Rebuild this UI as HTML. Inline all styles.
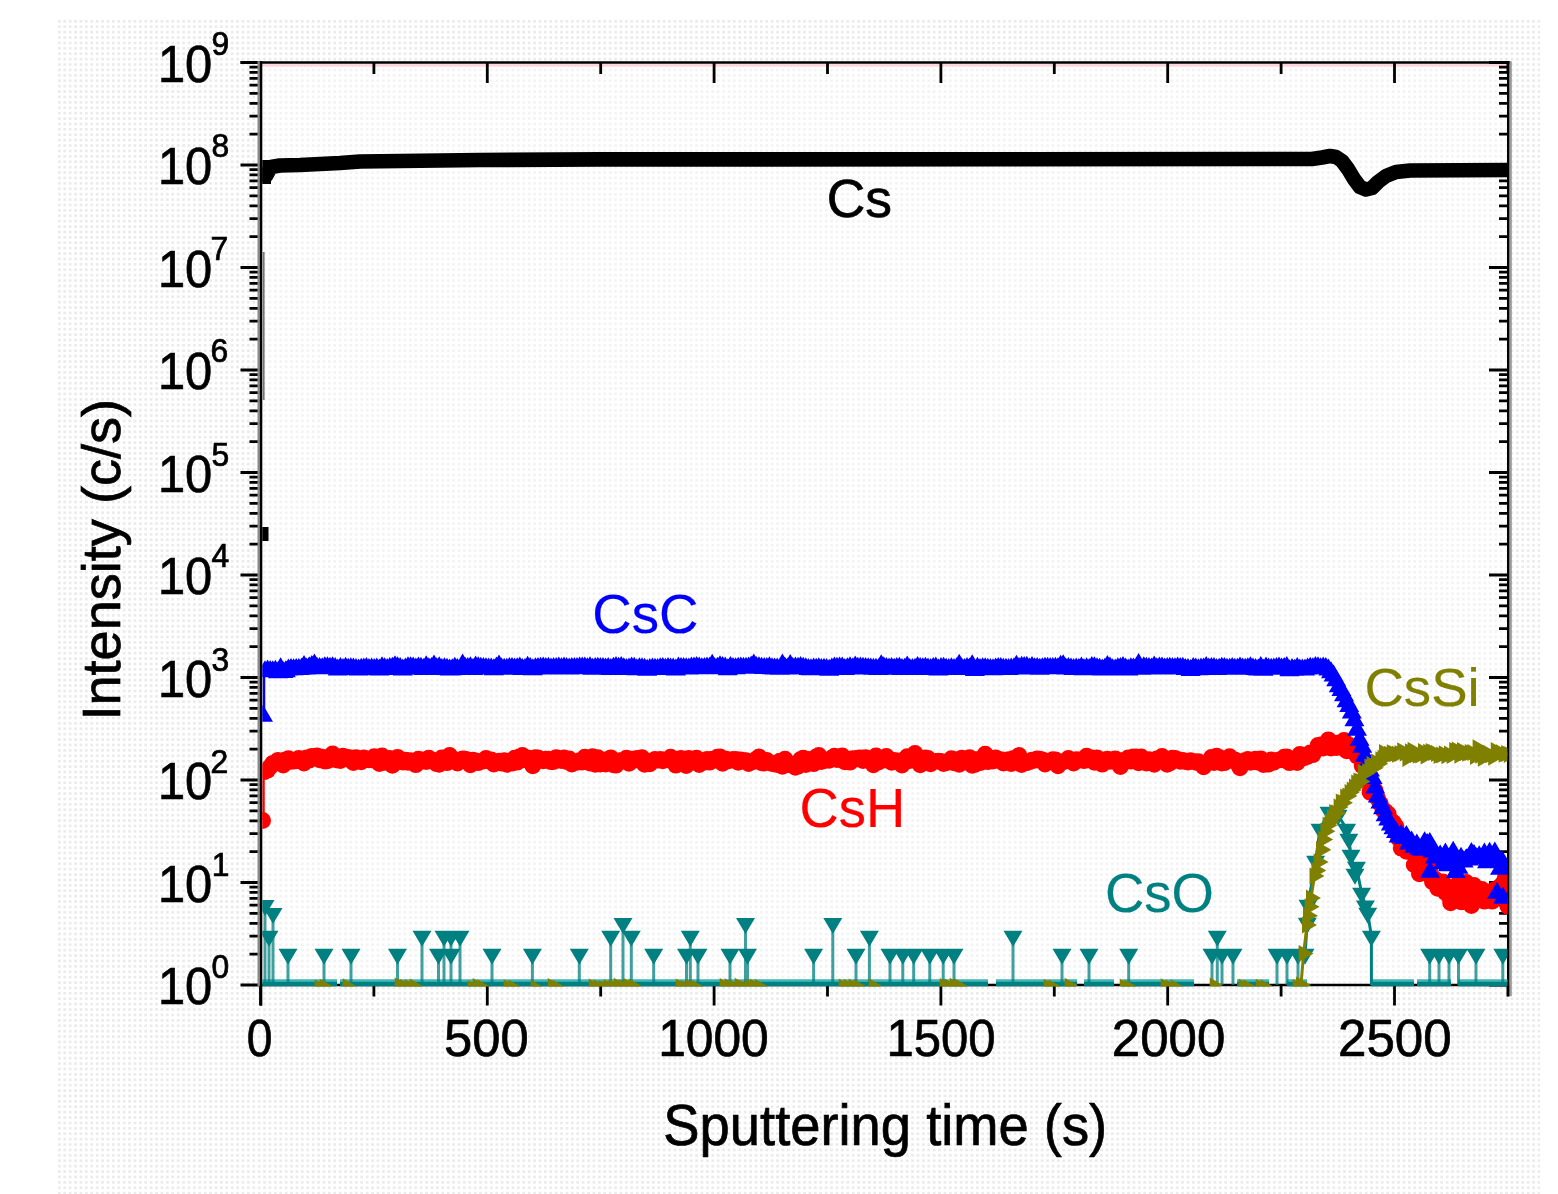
<!DOCTYPE html><html><head><meta charset="utf-8"><title>SIMS depth profile</title><style>html,body{margin:0;padding:0;background:#fff;}svg{display:block}</style></head><body>
<svg width="1558" height="1194" viewBox="0 0 1558 1194">
<defs><pattern id="dots" x="58" y="20" width="5.4" height="5.4" patternUnits="userSpaceOnUse"><path d="M0,0h2.7v2.7h-2.7z" fill="#ebebeb"/></pattern></defs>
<rect x="0" y="0" width="1558" height="1194" fill="#fff"/>
<rect x="58" y="20" width="1482" height="1174" fill="url(#dots)"/>
<rect x="260.5" y="62.5" width="1248.5" height="922.5" fill="#fff"/>
<rect x="260.5" y="62.5" width="1248.5" height="922.5" fill="url(#dots)" opacity="0.6"/>
<rect x="260.5" y="63.8" width="1248.5" height="3" fill="#ffd6de"/>
<path d="M240.5,985.0H260.5M1509.0,985.0H1489.0M249.5,954.1H260.5M1509.0,954.1H1499.0M249.5,936.1H260.5M1509.0,936.1H1499.0M249.5,923.3H260.5M1509.0,923.3H1499.0M249.5,913.4H260.5M1509.0,913.4H1499.0M249.5,905.2H260.5M1509.0,905.2H1499.0M249.5,898.4H260.5M1509.0,898.4H1499.0M249.5,892.4H260.5M1509.0,892.4H1499.0M249.5,887.2H260.5M1509.0,887.2H1499.0M240.5,882.5H260.5M1509.0,882.5H1489.0M249.5,851.6H260.5M1509.0,851.6H1499.0M249.5,833.6H260.5M1509.0,833.6H1499.0M249.5,820.8H260.5M1509.0,820.8H1499.0M249.5,810.9H260.5M1509.0,810.9H1499.0M249.5,802.7H260.5M1509.0,802.7H1499.0M249.5,795.9H260.5M1509.0,795.9H1499.0M249.5,789.9H260.5M1509.0,789.9H1499.0M249.5,784.7H260.5M1509.0,784.7H1499.0M240.5,780.0H260.5M1509.0,780.0H1489.0M249.5,749.1H260.5M1509.0,749.1H1499.0M249.5,731.1H260.5M1509.0,731.1H1499.0M249.5,718.3H260.5M1509.0,718.3H1499.0M249.5,708.4H260.5M1509.0,708.4H1499.0M249.5,700.2H260.5M1509.0,700.2H1499.0M249.5,693.4H260.5M1509.0,693.4H1499.0M249.5,687.4H260.5M1509.0,687.4H1499.0M249.5,682.2H260.5M1509.0,682.2H1499.0M240.5,677.5H260.5M1509.0,677.5H1489.0M249.5,646.6H260.5M1509.0,646.6H1499.0M249.5,628.6H260.5M1509.0,628.6H1499.0M249.5,615.8H260.5M1509.0,615.8H1499.0M249.5,605.9H260.5M1509.0,605.9H1499.0M249.5,597.7H260.5M1509.0,597.7H1499.0M249.5,590.9H260.5M1509.0,590.9H1499.0M249.5,584.9H260.5M1509.0,584.9H1499.0M249.5,579.7H260.5M1509.0,579.7H1499.0M240.5,575.0H260.5M1509.0,575.0H1489.0M249.5,544.1H260.5M1509.0,544.1H1499.0M249.5,526.1H260.5M1509.0,526.1H1499.0M249.5,513.3H260.5M1509.0,513.3H1499.0M249.5,503.4H260.5M1509.0,503.4H1499.0M249.5,495.2H260.5M1509.0,495.2H1499.0M249.5,488.4H260.5M1509.0,488.4H1499.0M249.5,482.4H260.5M1509.0,482.4H1499.0M249.5,477.2H260.5M1509.0,477.2H1499.0M240.5,472.5H260.5M1509.0,472.5H1489.0M249.5,441.6H260.5M1509.0,441.6H1499.0M249.5,423.6H260.5M1509.0,423.6H1499.0M249.5,410.8H260.5M1509.0,410.8H1499.0M249.5,400.9H260.5M1509.0,400.9H1499.0M249.5,392.7H260.5M1509.0,392.7H1499.0M249.5,385.9H260.5M1509.0,385.9H1499.0M249.5,379.9H260.5M1509.0,379.9H1499.0M249.5,374.7H260.5M1509.0,374.7H1499.0M240.5,370.0H260.5M1509.0,370.0H1489.0M249.5,339.1H260.5M1509.0,339.1H1499.0M249.5,321.1H260.5M1509.0,321.1H1499.0M249.5,308.3H260.5M1509.0,308.3H1499.0M249.5,298.4H260.5M1509.0,298.4H1499.0M249.5,290.2H260.5M1509.0,290.2H1499.0M249.5,283.4H260.5M1509.0,283.4H1499.0M249.5,277.4H260.5M1509.0,277.4H1499.0M249.5,272.2H260.5M1509.0,272.2H1499.0M240.5,267.5H260.5M1509.0,267.5H1489.0M249.5,236.6H260.5M1509.0,236.6H1499.0M249.5,218.6H260.5M1509.0,218.6H1499.0M249.5,205.8H260.5M1509.0,205.8H1499.0M249.5,195.9H260.5M1509.0,195.9H1499.0M249.5,187.7H260.5M1509.0,187.7H1499.0M249.5,180.9H260.5M1509.0,180.9H1499.0M249.5,174.9H260.5M1509.0,174.9H1499.0M249.5,169.7H260.5M1509.0,169.7H1499.0M240.5,165.0H260.5M1509.0,165.0H1489.0M249.5,134.1H260.5M1509.0,134.1H1499.0M249.5,116.1H260.5M1509.0,116.1H1499.0M249.5,103.3H260.5M1509.0,103.3H1499.0M249.5,93.4H260.5M1509.0,93.4H1499.0M249.5,85.2H260.5M1509.0,85.2H1499.0M249.5,78.4H260.5M1509.0,78.4H1499.0M249.5,72.4H260.5M1509.0,72.4H1499.0M249.5,67.2H260.5M1509.0,67.2H1499.0M240.5,62.5H260.5M1509.0,62.5H1489.0M260.5,985.0V1005.5M260.5,62.5V83.0M373.9,985.0V996.5M373.9,62.5V74.0M487.3,985.0V1005.5M487.3,62.5V83.0M600.7,985.0V996.5M600.7,62.5V74.0M714.1,985.0V1005.5M714.1,62.5V83.0M827.5,985.0V996.5M827.5,62.5V74.0M940.9,985.0V1005.5M940.9,62.5V83.0M1054.3,985.0V996.5M1054.3,62.5V74.0M1167.7,985.0V1005.5M1167.7,62.5V83.0M1281.1,985.0V996.5M1281.1,62.5V74.0M1394.5,985.0V1005.5M1394.5,62.5V83.0M1507.9,985.0V996.5M1507.9,62.5V74.0" stroke="#000" stroke-width="2.8" fill="none"/>
<path d="M240.5,62.5H1510.0M260.5,985.0H1509.0" stroke="#000" stroke-width="2.7" fill="none"/>
<rect x="257.5" y="61.2" width="2.4" height="925.1" fill="#8a8a8a"/>
<rect x="259.9" y="61.2" width="2.4" height="944.5" fill="#000"/>
<rect x="1507" y="61.2" width="2.6" height="935.0" fill="#000"/>
<rect x="1509.6" y="61.2" width="2.2" height="935.0" fill="#9a9a9a"/>
<clipPath id="dc"><rect x="262.3" y="63.8" width="1245.1000000000001" height="922.8000000000001"/></clipPath>
<g clip-path="url(#dc)">
<path d="M263.6,252V400" stroke="#777" stroke-width="2" fill="none"/>
<rect x="262" y="527" width="6.5" height="14" fill="#000"/>
<rect x="261" y="160" width="10" height="24" fill="#000"/>
<path d="M266.0,176.0L271.0,167.0L280.0,165.5L300.0,165.0L340.0,163.0L360.0,161.5L480.0,160.0L600.0,159.4L1000.0,159.3L1312.0,159.0L1322.0,157.5L1330.0,156.0L1336.0,157.0L1342.0,161.0L1348.0,169.0L1354.0,179.0L1360.0,187.0L1366.0,189.5L1372.0,188.0L1378.0,182.0L1386.0,176.0L1396.0,172.0L1410.0,170.5L1509.0,170.0" stroke="#000" stroke-width="14.6" stroke-linejoin="round" stroke-linecap="round" fill="none"/>
<path d="M263.5,820V780" stroke="#f00" stroke-width="2.5"/>
<path d="M265.0,771.5L267.6,770.2L270.2,766.8L272.8,763.3L275.4,762.6L278.0,760.3L280.6,762.3L283.2,765.0L285.8,759.6L288.4,758.7L291.0,761.3L293.6,761.2L296.2,760.8L298.8,758.3L301.4,761.0L304.0,763.1L306.6,757.9L309.2,760.2L311.8,756.3L314.4,757.6L317.0,755.9L319.6,759.9L322.2,757.1L324.8,761.1L327.4,760.8L330.0,759.9L332.6,753.9L335.2,759.0L337.8,760.2L340.4,760.5L343.0,756.2L345.6,758.8L348.2,757.5L350.8,757.9L353.4,762.6L356.0,757.6L358.6,759.5L361.2,761.8L363.8,758.0L366.4,759.3L369.0,759.9L371.6,759.9L374.2,756.7L376.8,760.2L379.4,763.5L382.0,756.0L384.6,762.3L387.2,760.4L389.8,758.4L392.4,765.4L395.0,762.3L397.6,757.3L400.2,760.7L402.8,762.0L405.4,760.1L408.0,762.4L410.6,760.6L413.2,762.6L415.8,764.7L418.4,759.2L421.0,761.6L423.6,759.9L426.2,761.5L428.8,758.1L431.4,759.7L434.0,760.8L436.6,763.7L439.2,764.3L441.8,757.9L444.4,759.1L447.0,762.7L449.6,755.5L452.2,759.1L454.8,759.7L457.4,763.0L460.0,761.5L462.6,758.9L465.2,759.1L467.8,759.8L470.4,764.9L473.0,760.2L475.6,760.8L478.2,762.7L480.8,761.4L483.4,761.0L486.0,758.4L488.6,761.1L491.2,759.9L493.8,764.1L496.4,762.8L499.0,761.2L501.6,763.2L504.2,760.7L506.8,764.4L509.4,761.7L512.0,763.2L514.6,758.2L517.2,762.2L519.8,756.7L522.4,755.5L525.0,759.7L527.6,758.0L530.2,760.5L532.8,765.8L535.4,757.7L538.0,758.0L540.6,760.1L543.2,760.8L545.8,759.1L548.4,759.2L551.0,761.7L553.6,761.5L556.2,757.6L558.8,760.2L561.4,760.6L564.0,757.9L566.6,761.5L569.2,758.9L571.8,764.0L574.4,762.4L577.0,762.4L579.6,760.7L582.2,762.0L584.8,757.1L587.4,759.2L590.0,763.1L592.6,756.6L595.2,764.3L597.8,757.6L600.4,764.1L603.0,759.9L605.6,764.1L608.2,762.3L610.8,757.8L613.4,764.9L616.0,765.2L618.6,761.1L621.2,760.4L623.8,760.5L626.4,758.2L629.0,763.4L631.6,759.1L634.2,760.3L636.8,758.5L639.4,759.1L642.0,757.6L644.6,764.4L647.2,760.9L649.8,763.8L652.4,761.3L655.0,759.4L657.6,760.2L660.2,759.5L662.8,760.8L665.4,759.8L668.0,759.9L670.6,757.2L673.2,758.7L675.8,765.2L678.4,759.3L681.0,758.5L683.6,762.4L686.2,765.5L688.8,758.4L691.4,762.0L694.0,761.1L696.6,758.2L699.2,764.6L701.8,762.3L704.4,762.1L707.0,759.5L709.6,762.2L712.2,759.2L714.8,759.9L717.4,757.2L720.0,756.8L722.6,763.4L725.2,758.8L727.8,761.0L730.4,760.4L733.0,759.5L735.6,759.4L738.2,762.4L740.8,759.9L743.4,760.3L746.0,760.7L748.6,763.6L751.2,762.3L753.8,761.5L756.4,759.0L759.0,756.9L761.6,762.9L764.2,763.1L766.8,760.4L769.4,762.5L772.0,763.5L774.6,764.0L777.2,764.5L779.8,761.2L782.4,766.4L785.0,759.2L787.6,764.7L790.2,763.7L792.8,764.7L795.4,767.3L798.0,766.4L800.6,759.5L803.2,758.1L805.8,764.5L808.4,759.5L811.0,761.8L813.6,763.7L816.2,757.0L818.8,755.5L821.4,761.5L824.0,760.8L826.6,759.8L829.2,760.4L831.8,757.9L834.4,756.1L837.0,759.6L839.6,757.6L842.2,756.0L844.8,761.9L847.4,760.7L850.0,762.2L852.6,758.6L855.2,759.3L857.8,758.1L860.4,758.0L863.0,760.5L865.6,757.6L868.2,760.4L870.8,760.4L873.4,764.8L876.0,756.0L878.6,762.1L881.2,759.7L883.8,760.0L886.4,756.4L889.0,759.1L891.6,762.4L894.2,760.5L896.8,761.3L899.4,760.8L902.0,765.0L904.6,762.3L907.2,756.7L909.8,760.6L912.4,757.1L915.0,753.5L917.6,760.2L920.2,764.8L922.8,761.2L925.4,757.9L928.0,758.4L930.6,763.8L933.2,761.4L935.8,761.3L938.4,761.2L941.0,761.5L943.6,763.5L946.2,762.9L948.8,762.0L951.4,758.7L954.0,762.8L956.6,759.7L959.2,764.4L961.8,758.2L964.4,761.1L967.0,761.3L969.6,757.6L972.2,765.4L974.8,764.6L977.4,759.5L980.0,762.7L982.6,761.8L985.2,754.1L987.8,761.7L990.4,760.9L993.0,761.1L995.6,757.9L998.2,759.8L1000.8,759.7L1003.4,763.0L1006.0,760.5L1008.6,759.6L1011.2,763.6L1013.8,758.3L1016.4,759.0L1019.0,755.5L1021.6,764.5L1024.2,762.9L1026.8,762.7L1029.4,761.8L1032.0,760.1L1034.6,760.3L1037.2,759.0L1039.8,759.2L1042.4,760.0L1045.0,764.1L1047.6,761.9L1050.2,760.7L1052.8,759.6L1055.4,759.8L1058.0,765.8L1060.6,763.0L1063.2,761.9L1065.8,760.7L1068.4,758.5L1071.0,760.9L1073.6,763.1L1076.2,759.7L1078.8,760.0L1081.4,759.9L1084.0,760.7L1086.6,756.2L1089.2,759.6L1091.8,757.8L1094.4,762.3L1097.0,758.0L1099.6,761.5L1102.2,764.2L1104.8,759.6L1107.4,759.1L1110.0,761.4L1112.6,761.2L1115.2,758.8L1117.8,762.6L1120.4,766.6L1123.0,760.5L1125.6,760.4L1128.2,757.9L1130.8,761.2L1133.4,756.8L1136.0,756.9L1138.6,762.9L1141.2,757.0L1143.8,761.9L1146.4,763.0L1149.0,759.7L1151.6,760.5L1154.2,764.3L1156.8,759.0L1159.4,758.2L1162.0,756.5L1164.6,760.4L1167.2,764.3L1169.8,763.1L1172.4,758.2L1175.0,758.4L1177.6,759.3L1180.2,761.4L1182.8,760.3L1185.4,761.6L1188.0,762.0L1190.6,760.7L1193.2,761.5L1195.8,762.3L1198.4,761.7L1201.0,763.3L1203.6,766.9L1206.2,763.5L1208.8,762.1L1211.4,757.4L1214.0,762.6L1216.6,756.2L1219.2,757.4L1221.8,763.1L1224.4,762.7L1227.0,760.5L1229.6,756.7L1232.2,760.4L1234.8,759.8L1237.4,763.5L1240.0,767.9L1242.6,762.8L1245.2,760.3L1247.8,759.4L1250.4,762.3L1253.0,761.9L1255.6,759.2L1258.2,762.3L1260.8,758.8L1263.4,764.5L1266.0,764.2L1268.6,764.1L1271.2,759.9L1273.8,762.4L1276.4,760.6L1279.0,759.8L1281.6,759.8L1284.2,757.2L1286.8,756.9L1289.4,762.7L1292.0,760.2L1294.6,761.3L1297.2,762.5L1299.8,754.5L1302.4,756.2L1305.0,757.6L1307.6,756.5L1310.2,752.9L1312.8,754.7L1315.4,750.6L1318.0,745.4L1320.6,744.8L1323.2,748.0L1325.8,746.2L1328.4,739.8L1331.0,748.0L1333.6,745.9L1336.2,747.7L1338.8,742.9L1341.4,742.9L1344.0,740.5L1346.6,750.8L1349.2,745.1L1351.8,751.0L1354.4,749.2L1357.0,756.1L1359.6,751.6L1362.2,765.8L1364.8,780.5L1367.4,773.4L1370.0,792.3L1372.6,793.4L1375.2,790.5L1377.8,798.7L1380.4,803.8L1383.0,810.2L1385.6,811.5L1388.2,813.9L1390.8,821.4L1393.4,822.5L1396.0,826.4L1398.6,838.6L1401.2,848.2L1403.8,838.6L1406.4,851.3L1409.0,850.7L1411.6,851.7L1414.2,864.9L1416.8,859.7L1419.4,873.9L1422.0,861.3L1424.6,872.5L1427.2,870.0L1429.8,868.5L1432.4,881.8L1435.0,879.1L1437.6,888.3L1440.2,886.6L1442.8,881.9L1445.4,892.5L1448.0,895.0L1450.6,902.9L1453.2,889.0L1455.8,896.2L1458.4,883.3L1461.0,901.8L1463.6,888.2L1466.2,882.5L1468.8,896.2L1471.4,905.5L1474.0,885.5L1476.6,889.3L1479.2,892.3L1481.8,889.5L1484.4,901.2L1487.0,891.7L1489.6,891.9L1492.2,901.2L1494.8,889.7L1497.4,898.1L1500.0,886.4L1502.6,883.8L1505.2,878.2L1507.8,906.3" stroke="#f00" stroke-width="3" fill="none"/>
<path d="M256.6,771.5a8.4,8.4 0 1,0 16.8,0a8.4,8.4 0 1,0 -16.8,0ZM259.2,770.2a8.4,8.4 0 1,0 16.8,0a8.4,8.4 0 1,0 -16.8,0ZM261.8,766.8a8.4,8.4 0 1,0 16.8,0a8.4,8.4 0 1,0 -16.8,0ZM264.4,763.3a8.4,8.4 0 1,0 16.8,0a8.4,8.4 0 1,0 -16.8,0ZM267.0,762.6a8.4,8.4 0 1,0 16.8,0a8.4,8.4 0 1,0 -16.8,0ZM269.6,760.3a8.4,8.4 0 1,0 16.8,0a8.4,8.4 0 1,0 -16.8,0ZM272.2,762.3a8.4,8.4 0 1,0 16.8,0a8.4,8.4 0 1,0 -16.8,0ZM274.8,765.0a8.4,8.4 0 1,0 16.8,0a8.4,8.4 0 1,0 -16.8,0ZM277.4,759.6a8.4,8.4 0 1,0 16.8,0a8.4,8.4 0 1,0 -16.8,0ZM280.0,758.7a8.4,8.4 0 1,0 16.8,0a8.4,8.4 0 1,0 -16.8,0ZM282.6,761.3a8.4,8.4 0 1,0 16.8,0a8.4,8.4 0 1,0 -16.8,0ZM285.2,761.2a8.4,8.4 0 1,0 16.8,0a8.4,8.4 0 1,0 -16.8,0ZM287.8,760.8a8.4,8.4 0 1,0 16.8,0a8.4,8.4 0 1,0 -16.8,0ZM290.4,758.3a8.4,8.4 0 1,0 16.8,0a8.4,8.4 0 1,0 -16.8,0ZM293.0,761.0a8.4,8.4 0 1,0 16.8,0a8.4,8.4 0 1,0 -16.8,0ZM295.6,763.1a8.4,8.4 0 1,0 16.8,0a8.4,8.4 0 1,0 -16.8,0ZM298.2,757.9a8.4,8.4 0 1,0 16.8,0a8.4,8.4 0 1,0 -16.8,0ZM300.8,760.2a8.4,8.4 0 1,0 16.8,0a8.4,8.4 0 1,0 -16.8,0ZM303.4,756.3a8.4,8.4 0 1,0 16.8,0a8.4,8.4 0 1,0 -16.8,0ZM306.0,757.6a8.4,8.4 0 1,0 16.8,0a8.4,8.4 0 1,0 -16.8,0ZM308.6,755.9a8.4,8.4 0 1,0 16.8,0a8.4,8.4 0 1,0 -16.8,0ZM311.2,759.9a8.4,8.4 0 1,0 16.8,0a8.4,8.4 0 1,0 -16.8,0ZM313.8,757.1a8.4,8.4 0 1,0 16.8,0a8.4,8.4 0 1,0 -16.8,0ZM316.4,761.1a8.4,8.4 0 1,0 16.8,0a8.4,8.4 0 1,0 -16.8,0ZM319.0,760.8a8.4,8.4 0 1,0 16.8,0a8.4,8.4 0 1,0 -16.8,0ZM321.6,759.9a8.4,8.4 0 1,0 16.8,0a8.4,8.4 0 1,0 -16.8,0ZM324.2,753.9a8.4,8.4 0 1,0 16.8,0a8.4,8.4 0 1,0 -16.8,0ZM326.8,759.0a8.4,8.4 0 1,0 16.8,0a8.4,8.4 0 1,0 -16.8,0ZM329.4,760.2a8.4,8.4 0 1,0 16.8,0a8.4,8.4 0 1,0 -16.8,0ZM332.0,760.5a8.4,8.4 0 1,0 16.8,0a8.4,8.4 0 1,0 -16.8,0ZM334.6,756.2a8.4,8.4 0 1,0 16.8,0a8.4,8.4 0 1,0 -16.8,0ZM337.2,758.8a8.4,8.4 0 1,0 16.8,0a8.4,8.4 0 1,0 -16.8,0ZM339.8,757.5a8.4,8.4 0 1,0 16.8,0a8.4,8.4 0 1,0 -16.8,0ZM342.4,757.9a8.4,8.4 0 1,0 16.8,0a8.4,8.4 0 1,0 -16.8,0ZM345.0,762.6a8.4,8.4 0 1,0 16.8,0a8.4,8.4 0 1,0 -16.8,0ZM347.6,757.6a8.4,8.4 0 1,0 16.8,0a8.4,8.4 0 1,0 -16.8,0ZM350.2,759.5a8.4,8.4 0 1,0 16.8,0a8.4,8.4 0 1,0 -16.8,0ZM352.8,761.8a8.4,8.4 0 1,0 16.8,0a8.4,8.4 0 1,0 -16.8,0ZM355.4,758.0a8.4,8.4 0 1,0 16.8,0a8.4,8.4 0 1,0 -16.8,0ZM358.0,759.3a8.4,8.4 0 1,0 16.8,0a8.4,8.4 0 1,0 -16.8,0ZM360.6,759.9a8.4,8.4 0 1,0 16.8,0a8.4,8.4 0 1,0 -16.8,0ZM363.2,759.9a8.4,8.4 0 1,0 16.8,0a8.4,8.4 0 1,0 -16.8,0ZM365.8,756.7a8.4,8.4 0 1,0 16.8,0a8.4,8.4 0 1,0 -16.8,0ZM368.4,760.2a8.4,8.4 0 1,0 16.8,0a8.4,8.4 0 1,0 -16.8,0ZM371.0,763.5a8.4,8.4 0 1,0 16.8,0a8.4,8.4 0 1,0 -16.8,0ZM373.6,756.0a8.4,8.4 0 1,0 16.8,0a8.4,8.4 0 1,0 -16.8,0ZM376.2,762.3a8.4,8.4 0 1,0 16.8,0a8.4,8.4 0 1,0 -16.8,0ZM378.8,760.4a8.4,8.4 0 1,0 16.8,0a8.4,8.4 0 1,0 -16.8,0ZM381.4,758.4a8.4,8.4 0 1,0 16.8,0a8.4,8.4 0 1,0 -16.8,0ZM384.0,765.4a8.4,8.4 0 1,0 16.8,0a8.4,8.4 0 1,0 -16.8,0ZM386.6,762.3a8.4,8.4 0 1,0 16.8,0a8.4,8.4 0 1,0 -16.8,0ZM389.2,757.3a8.4,8.4 0 1,0 16.8,0a8.4,8.4 0 1,0 -16.8,0ZM391.8,760.7a8.4,8.4 0 1,0 16.8,0a8.4,8.4 0 1,0 -16.8,0ZM394.4,762.0a8.4,8.4 0 1,0 16.8,0a8.4,8.4 0 1,0 -16.8,0ZM397.0,760.1a8.4,8.4 0 1,0 16.8,0a8.4,8.4 0 1,0 -16.8,0ZM399.6,762.4a8.4,8.4 0 1,0 16.8,0a8.4,8.4 0 1,0 -16.8,0ZM402.2,760.6a8.4,8.4 0 1,0 16.8,0a8.4,8.4 0 1,0 -16.8,0ZM404.8,762.6a8.4,8.4 0 1,0 16.8,0a8.4,8.4 0 1,0 -16.8,0ZM407.4,764.7a8.4,8.4 0 1,0 16.8,0a8.4,8.4 0 1,0 -16.8,0ZM410.0,759.2a8.4,8.4 0 1,0 16.8,0a8.4,8.4 0 1,0 -16.8,0ZM412.6,761.6a8.4,8.4 0 1,0 16.8,0a8.4,8.4 0 1,0 -16.8,0ZM415.2,759.9a8.4,8.4 0 1,0 16.8,0a8.4,8.4 0 1,0 -16.8,0ZM417.8,761.5a8.4,8.4 0 1,0 16.8,0a8.4,8.4 0 1,0 -16.8,0ZM420.4,758.1a8.4,8.4 0 1,0 16.8,0a8.4,8.4 0 1,0 -16.8,0ZM423.0,759.7a8.4,8.4 0 1,0 16.8,0a8.4,8.4 0 1,0 -16.8,0ZM425.6,760.8a8.4,8.4 0 1,0 16.8,0a8.4,8.4 0 1,0 -16.8,0ZM428.2,763.7a8.4,8.4 0 1,0 16.8,0a8.4,8.4 0 1,0 -16.8,0ZM430.8,764.3a8.4,8.4 0 1,0 16.8,0a8.4,8.4 0 1,0 -16.8,0ZM433.4,757.9a8.4,8.4 0 1,0 16.8,0a8.4,8.4 0 1,0 -16.8,0ZM436.0,759.1a8.4,8.4 0 1,0 16.8,0a8.4,8.4 0 1,0 -16.8,0ZM438.6,762.7a8.4,8.4 0 1,0 16.8,0a8.4,8.4 0 1,0 -16.8,0ZM441.2,755.5a8.4,8.4 0 1,0 16.8,0a8.4,8.4 0 1,0 -16.8,0ZM443.8,759.1a8.4,8.4 0 1,0 16.8,0a8.4,8.4 0 1,0 -16.8,0ZM446.4,759.7a8.4,8.4 0 1,0 16.8,0a8.4,8.4 0 1,0 -16.8,0ZM449.0,763.0a8.4,8.4 0 1,0 16.8,0a8.4,8.4 0 1,0 -16.8,0ZM451.6,761.5a8.4,8.4 0 1,0 16.8,0a8.4,8.4 0 1,0 -16.8,0ZM454.2,758.9a8.4,8.4 0 1,0 16.8,0a8.4,8.4 0 1,0 -16.8,0ZM456.8,759.1a8.4,8.4 0 1,0 16.8,0a8.4,8.4 0 1,0 -16.8,0ZM459.4,759.8a8.4,8.4 0 1,0 16.8,0a8.4,8.4 0 1,0 -16.8,0ZM462.0,764.9a8.4,8.4 0 1,0 16.8,0a8.4,8.4 0 1,0 -16.8,0ZM464.6,760.2a8.4,8.4 0 1,0 16.8,0a8.4,8.4 0 1,0 -16.8,0ZM467.2,760.8a8.4,8.4 0 1,0 16.8,0a8.4,8.4 0 1,0 -16.8,0ZM469.8,762.7a8.4,8.4 0 1,0 16.8,0a8.4,8.4 0 1,0 -16.8,0ZM472.4,761.4a8.4,8.4 0 1,0 16.8,0a8.4,8.4 0 1,0 -16.8,0ZM475.0,761.0a8.4,8.4 0 1,0 16.8,0a8.4,8.4 0 1,0 -16.8,0ZM477.6,758.4a8.4,8.4 0 1,0 16.8,0a8.4,8.4 0 1,0 -16.8,0ZM480.2,761.1a8.4,8.4 0 1,0 16.8,0a8.4,8.4 0 1,0 -16.8,0ZM482.8,759.9a8.4,8.4 0 1,0 16.8,0a8.4,8.4 0 1,0 -16.8,0ZM485.4,764.1a8.4,8.4 0 1,0 16.8,0a8.4,8.4 0 1,0 -16.8,0ZM488.0,762.8a8.4,8.4 0 1,0 16.8,0a8.4,8.4 0 1,0 -16.8,0ZM490.6,761.2a8.4,8.4 0 1,0 16.8,0a8.4,8.4 0 1,0 -16.8,0ZM493.2,763.2a8.4,8.4 0 1,0 16.8,0a8.4,8.4 0 1,0 -16.8,0ZM495.8,760.7a8.4,8.4 0 1,0 16.8,0a8.4,8.4 0 1,0 -16.8,0ZM498.4,764.4a8.4,8.4 0 1,0 16.8,0a8.4,8.4 0 1,0 -16.8,0ZM501.0,761.7a8.4,8.4 0 1,0 16.8,0a8.4,8.4 0 1,0 -16.8,0ZM503.6,763.2a8.4,8.4 0 1,0 16.8,0a8.4,8.4 0 1,0 -16.8,0ZM506.2,758.2a8.4,8.4 0 1,0 16.8,0a8.4,8.4 0 1,0 -16.8,0ZM508.8,762.2a8.4,8.4 0 1,0 16.8,0a8.4,8.4 0 1,0 -16.8,0ZM511.4,756.7a8.4,8.4 0 1,0 16.8,0a8.4,8.4 0 1,0 -16.8,0ZM514.0,755.5a8.4,8.4 0 1,0 16.8,0a8.4,8.4 0 1,0 -16.8,0ZM516.6,759.7a8.4,8.4 0 1,0 16.8,0a8.4,8.4 0 1,0 -16.8,0ZM519.2,758.0a8.4,8.4 0 1,0 16.8,0a8.4,8.4 0 1,0 -16.8,0ZM521.8,760.5a8.4,8.4 0 1,0 16.8,0a8.4,8.4 0 1,0 -16.8,0ZM524.4,765.8a8.4,8.4 0 1,0 16.8,0a8.4,8.4 0 1,0 -16.8,0ZM527.0,757.7a8.4,8.4 0 1,0 16.8,0a8.4,8.4 0 1,0 -16.8,0ZM529.6,758.0a8.4,8.4 0 1,0 16.8,0a8.4,8.4 0 1,0 -16.8,0ZM532.2,760.1a8.4,8.4 0 1,0 16.8,0a8.4,8.4 0 1,0 -16.8,0ZM534.8,760.8a8.4,8.4 0 1,0 16.8,0a8.4,8.4 0 1,0 -16.8,0ZM537.4,759.1a8.4,8.4 0 1,0 16.8,0a8.4,8.4 0 1,0 -16.8,0ZM540.0,759.2a8.4,8.4 0 1,0 16.8,0a8.4,8.4 0 1,0 -16.8,0ZM542.6,761.7a8.4,8.4 0 1,0 16.8,0a8.4,8.4 0 1,0 -16.8,0ZM545.2,761.5a8.4,8.4 0 1,0 16.8,0a8.4,8.4 0 1,0 -16.8,0ZM547.8,757.6a8.4,8.4 0 1,0 16.8,0a8.4,8.4 0 1,0 -16.8,0ZM550.4,760.2a8.4,8.4 0 1,0 16.8,0a8.4,8.4 0 1,0 -16.8,0ZM553.0,760.6a8.4,8.4 0 1,0 16.8,0a8.4,8.4 0 1,0 -16.8,0ZM555.6,757.9a8.4,8.4 0 1,0 16.8,0a8.4,8.4 0 1,0 -16.8,0ZM558.2,761.5a8.4,8.4 0 1,0 16.8,0a8.4,8.4 0 1,0 -16.8,0ZM560.8,758.9a8.4,8.4 0 1,0 16.8,0a8.4,8.4 0 1,0 -16.8,0ZM563.4,764.0a8.4,8.4 0 1,0 16.8,0a8.4,8.4 0 1,0 -16.8,0ZM566.0,762.4a8.4,8.4 0 1,0 16.8,0a8.4,8.4 0 1,0 -16.8,0ZM568.6,762.4a8.4,8.4 0 1,0 16.8,0a8.4,8.4 0 1,0 -16.8,0ZM571.2,760.7a8.4,8.4 0 1,0 16.8,0a8.4,8.4 0 1,0 -16.8,0ZM573.8,762.0a8.4,8.4 0 1,0 16.8,0a8.4,8.4 0 1,0 -16.8,0ZM576.4,757.1a8.4,8.4 0 1,0 16.8,0a8.4,8.4 0 1,0 -16.8,0ZM579.0,759.2a8.4,8.4 0 1,0 16.8,0a8.4,8.4 0 1,0 -16.8,0ZM581.6,763.1a8.4,8.4 0 1,0 16.8,0a8.4,8.4 0 1,0 -16.8,0ZM584.2,756.6a8.4,8.4 0 1,0 16.8,0a8.4,8.4 0 1,0 -16.8,0ZM586.8,764.3a8.4,8.4 0 1,0 16.8,0a8.4,8.4 0 1,0 -16.8,0ZM589.4,757.6a8.4,8.4 0 1,0 16.8,0a8.4,8.4 0 1,0 -16.8,0ZM592.0,764.1a8.4,8.4 0 1,0 16.8,0a8.4,8.4 0 1,0 -16.8,0ZM594.6,759.9a8.4,8.4 0 1,0 16.8,0a8.4,8.4 0 1,0 -16.8,0ZM597.2,764.1a8.4,8.4 0 1,0 16.8,0a8.4,8.4 0 1,0 -16.8,0ZM599.8,762.3a8.4,8.4 0 1,0 16.8,0a8.4,8.4 0 1,0 -16.8,0ZM602.4,757.8a8.4,8.4 0 1,0 16.8,0a8.4,8.4 0 1,0 -16.8,0ZM605.0,764.9a8.4,8.4 0 1,0 16.8,0a8.4,8.4 0 1,0 -16.8,0ZM607.6,765.2a8.4,8.4 0 1,0 16.8,0a8.4,8.4 0 1,0 -16.8,0ZM610.2,761.1a8.4,8.4 0 1,0 16.8,0a8.4,8.4 0 1,0 -16.8,0ZM612.8,760.4a8.4,8.4 0 1,0 16.8,0a8.4,8.4 0 1,0 -16.8,0ZM615.4,760.5a8.4,8.4 0 1,0 16.8,0a8.4,8.4 0 1,0 -16.8,0ZM618.0,758.2a8.4,8.4 0 1,0 16.8,0a8.4,8.4 0 1,0 -16.8,0ZM620.6,763.4a8.4,8.4 0 1,0 16.8,0a8.4,8.4 0 1,0 -16.8,0ZM623.2,759.1a8.4,8.4 0 1,0 16.8,0a8.4,8.4 0 1,0 -16.8,0ZM625.8,760.3a8.4,8.4 0 1,0 16.8,0a8.4,8.4 0 1,0 -16.8,0ZM628.4,758.5a8.4,8.4 0 1,0 16.8,0a8.4,8.4 0 1,0 -16.8,0ZM631.0,759.1a8.4,8.4 0 1,0 16.8,0a8.4,8.4 0 1,0 -16.8,0ZM633.6,757.6a8.4,8.4 0 1,0 16.8,0a8.4,8.4 0 1,0 -16.8,0ZM636.2,764.4a8.4,8.4 0 1,0 16.8,0a8.4,8.4 0 1,0 -16.8,0ZM638.8,760.9a8.4,8.4 0 1,0 16.8,0a8.4,8.4 0 1,0 -16.8,0ZM641.4,763.8a8.4,8.4 0 1,0 16.8,0a8.4,8.4 0 1,0 -16.8,0ZM644.0,761.3a8.4,8.4 0 1,0 16.8,0a8.4,8.4 0 1,0 -16.8,0ZM646.6,759.4a8.4,8.4 0 1,0 16.8,0a8.4,8.4 0 1,0 -16.8,0ZM649.2,760.2a8.4,8.4 0 1,0 16.8,0a8.4,8.4 0 1,0 -16.8,0ZM651.8,759.5a8.4,8.4 0 1,0 16.8,0a8.4,8.4 0 1,0 -16.8,0ZM654.4,760.8a8.4,8.4 0 1,0 16.8,0a8.4,8.4 0 1,0 -16.8,0ZM657.0,759.8a8.4,8.4 0 1,0 16.8,0a8.4,8.4 0 1,0 -16.8,0ZM659.6,759.9a8.4,8.4 0 1,0 16.8,0a8.4,8.4 0 1,0 -16.8,0ZM662.2,757.2a8.4,8.4 0 1,0 16.8,0a8.4,8.4 0 1,0 -16.8,0ZM664.8,758.7a8.4,8.4 0 1,0 16.8,0a8.4,8.4 0 1,0 -16.8,0ZM667.4,765.2a8.4,8.4 0 1,0 16.8,0a8.4,8.4 0 1,0 -16.8,0ZM670.0,759.3a8.4,8.4 0 1,0 16.8,0a8.4,8.4 0 1,0 -16.8,0ZM672.6,758.5a8.4,8.4 0 1,0 16.8,0a8.4,8.4 0 1,0 -16.8,0ZM675.2,762.4a8.4,8.4 0 1,0 16.8,0a8.4,8.4 0 1,0 -16.8,0ZM677.8,765.5a8.4,8.4 0 1,0 16.8,0a8.4,8.4 0 1,0 -16.8,0ZM680.4,758.4a8.4,8.4 0 1,0 16.8,0a8.4,8.4 0 1,0 -16.8,0ZM683.0,762.0a8.4,8.4 0 1,0 16.8,0a8.4,8.4 0 1,0 -16.8,0ZM685.6,761.1a8.4,8.4 0 1,0 16.8,0a8.4,8.4 0 1,0 -16.8,0ZM688.2,758.2a8.4,8.4 0 1,0 16.8,0a8.4,8.4 0 1,0 -16.8,0ZM690.8,764.6a8.4,8.4 0 1,0 16.8,0a8.4,8.4 0 1,0 -16.8,0ZM693.4,762.3a8.4,8.4 0 1,0 16.8,0a8.4,8.4 0 1,0 -16.8,0ZM696.0,762.1a8.4,8.4 0 1,0 16.8,0a8.4,8.4 0 1,0 -16.8,0ZM698.6,759.5a8.4,8.4 0 1,0 16.8,0a8.4,8.4 0 1,0 -16.8,0ZM701.2,762.2a8.4,8.4 0 1,0 16.8,0a8.4,8.4 0 1,0 -16.8,0ZM703.8,759.2a8.4,8.4 0 1,0 16.8,0a8.4,8.4 0 1,0 -16.8,0ZM706.4,759.9a8.4,8.4 0 1,0 16.8,0a8.4,8.4 0 1,0 -16.8,0ZM709.0,757.2a8.4,8.4 0 1,0 16.8,0a8.4,8.4 0 1,0 -16.8,0ZM711.6,756.8a8.4,8.4 0 1,0 16.8,0a8.4,8.4 0 1,0 -16.8,0ZM714.2,763.4a8.4,8.4 0 1,0 16.8,0a8.4,8.4 0 1,0 -16.8,0ZM716.8,758.8a8.4,8.4 0 1,0 16.8,0a8.4,8.4 0 1,0 -16.8,0ZM719.4,761.0a8.4,8.4 0 1,0 16.8,0a8.4,8.4 0 1,0 -16.8,0ZM722.0,760.4a8.4,8.4 0 1,0 16.8,0a8.4,8.4 0 1,0 -16.8,0ZM724.6,759.5a8.4,8.4 0 1,0 16.8,0a8.4,8.4 0 1,0 -16.8,0ZM727.2,759.4a8.4,8.4 0 1,0 16.8,0a8.4,8.4 0 1,0 -16.8,0ZM729.8,762.4a8.4,8.4 0 1,0 16.8,0a8.4,8.4 0 1,0 -16.8,0ZM732.4,759.9a8.4,8.4 0 1,0 16.8,0a8.4,8.4 0 1,0 -16.8,0ZM735.0,760.3a8.4,8.4 0 1,0 16.8,0a8.4,8.4 0 1,0 -16.8,0ZM737.6,760.7a8.4,8.4 0 1,0 16.8,0a8.4,8.4 0 1,0 -16.8,0ZM740.2,763.6a8.4,8.4 0 1,0 16.8,0a8.4,8.4 0 1,0 -16.8,0ZM742.8,762.3a8.4,8.4 0 1,0 16.8,0a8.4,8.4 0 1,0 -16.8,0ZM745.4,761.5a8.4,8.4 0 1,0 16.8,0a8.4,8.4 0 1,0 -16.8,0ZM748.0,759.0a8.4,8.4 0 1,0 16.8,0a8.4,8.4 0 1,0 -16.8,0ZM750.6,756.9a8.4,8.4 0 1,0 16.8,0a8.4,8.4 0 1,0 -16.8,0ZM753.2,762.9a8.4,8.4 0 1,0 16.8,0a8.4,8.4 0 1,0 -16.8,0ZM755.8,763.1a8.4,8.4 0 1,0 16.8,0a8.4,8.4 0 1,0 -16.8,0ZM758.4,760.4a8.4,8.4 0 1,0 16.8,0a8.4,8.4 0 1,0 -16.8,0ZM761.0,762.5a8.4,8.4 0 1,0 16.8,0a8.4,8.4 0 1,0 -16.8,0ZM763.6,763.5a8.4,8.4 0 1,0 16.8,0a8.4,8.4 0 1,0 -16.8,0ZM766.2,764.0a8.4,8.4 0 1,0 16.8,0a8.4,8.4 0 1,0 -16.8,0ZM768.8,764.5a8.4,8.4 0 1,0 16.8,0a8.4,8.4 0 1,0 -16.8,0ZM771.4,761.2a8.4,8.4 0 1,0 16.8,0a8.4,8.4 0 1,0 -16.8,0ZM774.0,766.4a8.4,8.4 0 1,0 16.8,0a8.4,8.4 0 1,0 -16.8,0ZM776.6,759.2a8.4,8.4 0 1,0 16.8,0a8.4,8.4 0 1,0 -16.8,0ZM779.2,764.7a8.4,8.4 0 1,0 16.8,0a8.4,8.4 0 1,0 -16.8,0ZM781.8,763.7a8.4,8.4 0 1,0 16.8,0a8.4,8.4 0 1,0 -16.8,0ZM784.4,764.7a8.4,8.4 0 1,0 16.8,0a8.4,8.4 0 1,0 -16.8,0ZM787.0,767.3a8.4,8.4 0 1,0 16.8,0a8.4,8.4 0 1,0 -16.8,0ZM789.6,766.4a8.4,8.4 0 1,0 16.8,0a8.4,8.4 0 1,0 -16.8,0ZM792.2,759.5a8.4,8.4 0 1,0 16.8,0a8.4,8.4 0 1,0 -16.8,0ZM794.8,758.1a8.4,8.4 0 1,0 16.8,0a8.4,8.4 0 1,0 -16.8,0ZM797.4,764.5a8.4,8.4 0 1,0 16.8,0a8.4,8.4 0 1,0 -16.8,0ZM800.0,759.5a8.4,8.4 0 1,0 16.8,0a8.4,8.4 0 1,0 -16.8,0ZM802.6,761.8a8.4,8.4 0 1,0 16.8,0a8.4,8.4 0 1,0 -16.8,0ZM805.2,763.7a8.4,8.4 0 1,0 16.8,0a8.4,8.4 0 1,0 -16.8,0ZM807.8,757.0a8.4,8.4 0 1,0 16.8,0a8.4,8.4 0 1,0 -16.8,0ZM810.4,755.5a8.4,8.4 0 1,0 16.8,0a8.4,8.4 0 1,0 -16.8,0ZM813.0,761.5a8.4,8.4 0 1,0 16.8,0a8.4,8.4 0 1,0 -16.8,0ZM815.6,760.8a8.4,8.4 0 1,0 16.8,0a8.4,8.4 0 1,0 -16.8,0ZM818.2,759.8a8.4,8.4 0 1,0 16.8,0a8.4,8.4 0 1,0 -16.8,0ZM820.8,760.4a8.4,8.4 0 1,0 16.8,0a8.4,8.4 0 1,0 -16.8,0ZM823.4,757.9a8.4,8.4 0 1,0 16.8,0a8.4,8.4 0 1,0 -16.8,0ZM826.0,756.1a8.4,8.4 0 1,0 16.8,0a8.4,8.4 0 1,0 -16.8,0ZM828.6,759.6a8.4,8.4 0 1,0 16.8,0a8.4,8.4 0 1,0 -16.8,0ZM831.2,757.6a8.4,8.4 0 1,0 16.8,0a8.4,8.4 0 1,0 -16.8,0ZM833.8,756.0a8.4,8.4 0 1,0 16.8,0a8.4,8.4 0 1,0 -16.8,0ZM836.4,761.9a8.4,8.4 0 1,0 16.8,0a8.4,8.4 0 1,0 -16.8,0ZM839.0,760.7a8.4,8.4 0 1,0 16.8,0a8.4,8.4 0 1,0 -16.8,0ZM841.6,762.2a8.4,8.4 0 1,0 16.8,0a8.4,8.4 0 1,0 -16.8,0ZM844.2,758.6a8.4,8.4 0 1,0 16.8,0a8.4,8.4 0 1,0 -16.8,0ZM846.8,759.3a8.4,8.4 0 1,0 16.8,0a8.4,8.4 0 1,0 -16.8,0ZM849.4,758.1a8.4,8.4 0 1,0 16.8,0a8.4,8.4 0 1,0 -16.8,0ZM852.0,758.0a8.4,8.4 0 1,0 16.8,0a8.4,8.4 0 1,0 -16.8,0ZM854.6,760.5a8.4,8.4 0 1,0 16.8,0a8.4,8.4 0 1,0 -16.8,0ZM857.2,757.6a8.4,8.4 0 1,0 16.8,0a8.4,8.4 0 1,0 -16.8,0ZM859.8,760.4a8.4,8.4 0 1,0 16.8,0a8.4,8.4 0 1,0 -16.8,0ZM862.4,760.4a8.4,8.4 0 1,0 16.8,0a8.4,8.4 0 1,0 -16.8,0ZM865.0,764.8a8.4,8.4 0 1,0 16.8,0a8.4,8.4 0 1,0 -16.8,0ZM867.6,756.0a8.4,8.4 0 1,0 16.8,0a8.4,8.4 0 1,0 -16.8,0ZM870.2,762.1a8.4,8.4 0 1,0 16.8,0a8.4,8.4 0 1,0 -16.8,0ZM872.8,759.7a8.4,8.4 0 1,0 16.8,0a8.4,8.4 0 1,0 -16.8,0ZM875.4,760.0a8.4,8.4 0 1,0 16.8,0a8.4,8.4 0 1,0 -16.8,0ZM878.0,756.4a8.4,8.4 0 1,0 16.8,0a8.4,8.4 0 1,0 -16.8,0ZM880.6,759.1a8.4,8.4 0 1,0 16.8,0a8.4,8.4 0 1,0 -16.8,0ZM883.2,762.4a8.4,8.4 0 1,0 16.8,0a8.4,8.4 0 1,0 -16.8,0ZM885.8,760.5a8.4,8.4 0 1,0 16.8,0a8.4,8.4 0 1,0 -16.8,0ZM888.4,761.3a8.4,8.4 0 1,0 16.8,0a8.4,8.4 0 1,0 -16.8,0ZM891.0,760.8a8.4,8.4 0 1,0 16.8,0a8.4,8.4 0 1,0 -16.8,0ZM893.6,765.0a8.4,8.4 0 1,0 16.8,0a8.4,8.4 0 1,0 -16.8,0ZM896.2,762.3a8.4,8.4 0 1,0 16.8,0a8.4,8.4 0 1,0 -16.8,0ZM898.8,756.7a8.4,8.4 0 1,0 16.8,0a8.4,8.4 0 1,0 -16.8,0ZM901.4,760.6a8.4,8.4 0 1,0 16.8,0a8.4,8.4 0 1,0 -16.8,0ZM904.0,757.1a8.4,8.4 0 1,0 16.8,0a8.4,8.4 0 1,0 -16.8,0ZM906.6,753.5a8.4,8.4 0 1,0 16.8,0a8.4,8.4 0 1,0 -16.8,0ZM909.2,760.2a8.4,8.4 0 1,0 16.8,0a8.4,8.4 0 1,0 -16.8,0ZM911.8,764.8a8.4,8.4 0 1,0 16.8,0a8.4,8.4 0 1,0 -16.8,0ZM914.4,761.2a8.4,8.4 0 1,0 16.8,0a8.4,8.4 0 1,0 -16.8,0ZM917.0,757.9a8.4,8.4 0 1,0 16.8,0a8.4,8.4 0 1,0 -16.8,0ZM919.6,758.4a8.4,8.4 0 1,0 16.8,0a8.4,8.4 0 1,0 -16.8,0ZM922.2,763.8a8.4,8.4 0 1,0 16.8,0a8.4,8.4 0 1,0 -16.8,0ZM924.8,761.4a8.4,8.4 0 1,0 16.8,0a8.4,8.4 0 1,0 -16.8,0ZM927.4,761.3a8.4,8.4 0 1,0 16.8,0a8.4,8.4 0 1,0 -16.8,0ZM930.0,761.2a8.4,8.4 0 1,0 16.8,0a8.4,8.4 0 1,0 -16.8,0ZM932.6,761.5a8.4,8.4 0 1,0 16.8,0a8.4,8.4 0 1,0 -16.8,0ZM935.2,763.5a8.4,8.4 0 1,0 16.8,0a8.4,8.4 0 1,0 -16.8,0ZM937.8,762.9a8.4,8.4 0 1,0 16.8,0a8.4,8.4 0 1,0 -16.8,0ZM940.4,762.0a8.4,8.4 0 1,0 16.8,0a8.4,8.4 0 1,0 -16.8,0ZM943.0,758.7a8.4,8.4 0 1,0 16.8,0a8.4,8.4 0 1,0 -16.8,0ZM945.6,762.8a8.4,8.4 0 1,0 16.8,0a8.4,8.4 0 1,0 -16.8,0ZM948.2,759.7a8.4,8.4 0 1,0 16.8,0a8.4,8.4 0 1,0 -16.8,0ZM950.8,764.4a8.4,8.4 0 1,0 16.8,0a8.4,8.4 0 1,0 -16.8,0ZM953.4,758.2a8.4,8.4 0 1,0 16.8,0a8.4,8.4 0 1,0 -16.8,0ZM956.0,761.1a8.4,8.4 0 1,0 16.8,0a8.4,8.4 0 1,0 -16.8,0ZM958.6,761.3a8.4,8.4 0 1,0 16.8,0a8.4,8.4 0 1,0 -16.8,0ZM961.2,757.6a8.4,8.4 0 1,0 16.8,0a8.4,8.4 0 1,0 -16.8,0ZM963.8,765.4a8.4,8.4 0 1,0 16.8,0a8.4,8.4 0 1,0 -16.8,0ZM966.4,764.6a8.4,8.4 0 1,0 16.8,0a8.4,8.4 0 1,0 -16.8,0ZM969.0,759.5a8.4,8.4 0 1,0 16.8,0a8.4,8.4 0 1,0 -16.8,0ZM971.6,762.7a8.4,8.4 0 1,0 16.8,0a8.4,8.4 0 1,0 -16.8,0ZM974.2,761.8a8.4,8.4 0 1,0 16.8,0a8.4,8.4 0 1,0 -16.8,0ZM976.8,754.1a8.4,8.4 0 1,0 16.8,0a8.4,8.4 0 1,0 -16.8,0ZM979.4,761.7a8.4,8.4 0 1,0 16.8,0a8.4,8.4 0 1,0 -16.8,0ZM982.0,760.9a8.4,8.4 0 1,0 16.8,0a8.4,8.4 0 1,0 -16.8,0ZM984.6,761.1a8.4,8.4 0 1,0 16.8,0a8.4,8.4 0 1,0 -16.8,0ZM987.2,757.9a8.4,8.4 0 1,0 16.8,0a8.4,8.4 0 1,0 -16.8,0ZM989.8,759.8a8.4,8.4 0 1,0 16.8,0a8.4,8.4 0 1,0 -16.8,0ZM992.4,759.7a8.4,8.4 0 1,0 16.8,0a8.4,8.4 0 1,0 -16.8,0ZM995.0,763.0a8.4,8.4 0 1,0 16.8,0a8.4,8.4 0 1,0 -16.8,0ZM997.6,760.5a8.4,8.4 0 1,0 16.8,0a8.4,8.4 0 1,0 -16.8,0ZM1000.2,759.6a8.4,8.4 0 1,0 16.8,0a8.4,8.4 0 1,0 -16.8,0ZM1002.8,763.6a8.4,8.4 0 1,0 16.8,0a8.4,8.4 0 1,0 -16.8,0ZM1005.4,758.3a8.4,8.4 0 1,0 16.8,0a8.4,8.4 0 1,0 -16.8,0ZM1008.0,759.0a8.4,8.4 0 1,0 16.8,0a8.4,8.4 0 1,0 -16.8,0ZM1010.6,755.5a8.4,8.4 0 1,0 16.8,0a8.4,8.4 0 1,0 -16.8,0ZM1013.2,764.5a8.4,8.4 0 1,0 16.8,0a8.4,8.4 0 1,0 -16.8,0ZM1015.8,762.9a8.4,8.4 0 1,0 16.8,0a8.4,8.4 0 1,0 -16.8,0ZM1018.4,762.7a8.4,8.4 0 1,0 16.8,0a8.4,8.4 0 1,0 -16.8,0ZM1021.0,761.8a8.4,8.4 0 1,0 16.8,0a8.4,8.4 0 1,0 -16.8,0ZM1023.6,760.1a8.4,8.4 0 1,0 16.8,0a8.4,8.4 0 1,0 -16.8,0ZM1026.2,760.3a8.4,8.4 0 1,0 16.8,0a8.4,8.4 0 1,0 -16.8,0ZM1028.8,759.0a8.4,8.4 0 1,0 16.8,0a8.4,8.4 0 1,0 -16.8,0ZM1031.4,759.2a8.4,8.4 0 1,0 16.8,0a8.4,8.4 0 1,0 -16.8,0ZM1034.0,760.0a8.4,8.4 0 1,0 16.8,0a8.4,8.4 0 1,0 -16.8,0ZM1036.6,764.1a8.4,8.4 0 1,0 16.8,0a8.4,8.4 0 1,0 -16.8,0ZM1039.2,761.9a8.4,8.4 0 1,0 16.8,0a8.4,8.4 0 1,0 -16.8,0ZM1041.8,760.7a8.4,8.4 0 1,0 16.8,0a8.4,8.4 0 1,0 -16.8,0ZM1044.4,759.6a8.4,8.4 0 1,0 16.8,0a8.4,8.4 0 1,0 -16.8,0ZM1047.0,759.8a8.4,8.4 0 1,0 16.8,0a8.4,8.4 0 1,0 -16.8,0ZM1049.6,765.8a8.4,8.4 0 1,0 16.8,0a8.4,8.4 0 1,0 -16.8,0ZM1052.2,763.0a8.4,8.4 0 1,0 16.8,0a8.4,8.4 0 1,0 -16.8,0ZM1054.8,761.9a8.4,8.4 0 1,0 16.8,0a8.4,8.4 0 1,0 -16.8,0ZM1057.4,760.7a8.4,8.4 0 1,0 16.8,0a8.4,8.4 0 1,0 -16.8,0ZM1060.0,758.5a8.4,8.4 0 1,0 16.8,0a8.4,8.4 0 1,0 -16.8,0ZM1062.6,760.9a8.4,8.4 0 1,0 16.8,0a8.4,8.4 0 1,0 -16.8,0ZM1065.2,763.1a8.4,8.4 0 1,0 16.8,0a8.4,8.4 0 1,0 -16.8,0ZM1067.8,759.7a8.4,8.4 0 1,0 16.8,0a8.4,8.4 0 1,0 -16.8,0ZM1070.4,760.0a8.4,8.4 0 1,0 16.8,0a8.4,8.4 0 1,0 -16.8,0ZM1073.0,759.9a8.4,8.4 0 1,0 16.8,0a8.4,8.4 0 1,0 -16.8,0ZM1075.6,760.7a8.4,8.4 0 1,0 16.8,0a8.4,8.4 0 1,0 -16.8,0ZM1078.2,756.2a8.4,8.4 0 1,0 16.8,0a8.4,8.4 0 1,0 -16.8,0ZM1080.8,759.6a8.4,8.4 0 1,0 16.8,0a8.4,8.4 0 1,0 -16.8,0ZM1083.4,757.8a8.4,8.4 0 1,0 16.8,0a8.4,8.4 0 1,0 -16.8,0ZM1086.0,762.3a8.4,8.4 0 1,0 16.8,0a8.4,8.4 0 1,0 -16.8,0ZM1088.6,758.0a8.4,8.4 0 1,0 16.8,0a8.4,8.4 0 1,0 -16.8,0ZM1091.2,761.5a8.4,8.4 0 1,0 16.8,0a8.4,8.4 0 1,0 -16.8,0ZM1093.8,764.2a8.4,8.4 0 1,0 16.8,0a8.4,8.4 0 1,0 -16.8,0ZM1096.4,759.6a8.4,8.4 0 1,0 16.8,0a8.4,8.4 0 1,0 -16.8,0ZM1099.0,759.1a8.4,8.4 0 1,0 16.8,0a8.4,8.4 0 1,0 -16.8,0ZM1101.6,761.4a8.4,8.4 0 1,0 16.8,0a8.4,8.4 0 1,0 -16.8,0ZM1104.2,761.2a8.4,8.4 0 1,0 16.8,0a8.4,8.4 0 1,0 -16.8,0ZM1106.8,758.8a8.4,8.4 0 1,0 16.8,0a8.4,8.4 0 1,0 -16.8,0ZM1109.4,762.6a8.4,8.4 0 1,0 16.8,0a8.4,8.4 0 1,0 -16.8,0ZM1112.0,766.6a8.4,8.4 0 1,0 16.8,0a8.4,8.4 0 1,0 -16.8,0ZM1114.6,760.5a8.4,8.4 0 1,0 16.8,0a8.4,8.4 0 1,0 -16.8,0ZM1117.2,760.4a8.4,8.4 0 1,0 16.8,0a8.4,8.4 0 1,0 -16.8,0ZM1119.8,757.9a8.4,8.4 0 1,0 16.8,0a8.4,8.4 0 1,0 -16.8,0ZM1122.4,761.2a8.4,8.4 0 1,0 16.8,0a8.4,8.4 0 1,0 -16.8,0ZM1125.0,756.8a8.4,8.4 0 1,0 16.8,0a8.4,8.4 0 1,0 -16.8,0ZM1127.6,756.9a8.4,8.4 0 1,0 16.8,0a8.4,8.4 0 1,0 -16.8,0ZM1130.2,762.9a8.4,8.4 0 1,0 16.8,0a8.4,8.4 0 1,0 -16.8,0ZM1132.8,757.0a8.4,8.4 0 1,0 16.8,0a8.4,8.4 0 1,0 -16.8,0ZM1135.4,761.9a8.4,8.4 0 1,0 16.8,0a8.4,8.4 0 1,0 -16.8,0ZM1138.0,763.0a8.4,8.4 0 1,0 16.8,0a8.4,8.4 0 1,0 -16.8,0ZM1140.6,759.7a8.4,8.4 0 1,0 16.8,0a8.4,8.4 0 1,0 -16.8,0ZM1143.2,760.5a8.4,8.4 0 1,0 16.8,0a8.4,8.4 0 1,0 -16.8,0ZM1145.8,764.3a8.4,8.4 0 1,0 16.8,0a8.4,8.4 0 1,0 -16.8,0ZM1148.4,759.0a8.4,8.4 0 1,0 16.8,0a8.4,8.4 0 1,0 -16.8,0ZM1151.0,758.2a8.4,8.4 0 1,0 16.8,0a8.4,8.4 0 1,0 -16.8,0ZM1153.6,756.5a8.4,8.4 0 1,0 16.8,0a8.4,8.4 0 1,0 -16.8,0ZM1156.2,760.4a8.4,8.4 0 1,0 16.8,0a8.4,8.4 0 1,0 -16.8,0ZM1158.8,764.3a8.4,8.4 0 1,0 16.8,0a8.4,8.4 0 1,0 -16.8,0ZM1161.4,763.1a8.4,8.4 0 1,0 16.8,0a8.4,8.4 0 1,0 -16.8,0ZM1164.0,758.2a8.4,8.4 0 1,0 16.8,0a8.4,8.4 0 1,0 -16.8,0ZM1166.6,758.4a8.4,8.4 0 1,0 16.8,0a8.4,8.4 0 1,0 -16.8,0ZM1169.2,759.3a8.4,8.4 0 1,0 16.8,0a8.4,8.4 0 1,0 -16.8,0ZM1171.8,761.4a8.4,8.4 0 1,0 16.8,0a8.4,8.4 0 1,0 -16.8,0ZM1174.4,760.3a8.4,8.4 0 1,0 16.8,0a8.4,8.4 0 1,0 -16.8,0ZM1177.0,761.6a8.4,8.4 0 1,0 16.8,0a8.4,8.4 0 1,0 -16.8,0ZM1179.6,762.0a8.4,8.4 0 1,0 16.8,0a8.4,8.4 0 1,0 -16.8,0ZM1182.2,760.7a8.4,8.4 0 1,0 16.8,0a8.4,8.4 0 1,0 -16.8,0ZM1184.8,761.5a8.4,8.4 0 1,0 16.8,0a8.4,8.4 0 1,0 -16.8,0ZM1187.4,762.3a8.4,8.4 0 1,0 16.8,0a8.4,8.4 0 1,0 -16.8,0ZM1190.0,761.7a8.4,8.4 0 1,0 16.8,0a8.4,8.4 0 1,0 -16.8,0ZM1192.6,763.3a8.4,8.4 0 1,0 16.8,0a8.4,8.4 0 1,0 -16.8,0ZM1195.2,766.9a8.4,8.4 0 1,0 16.8,0a8.4,8.4 0 1,0 -16.8,0ZM1197.8,763.5a8.4,8.4 0 1,0 16.8,0a8.4,8.4 0 1,0 -16.8,0ZM1200.4,762.1a8.4,8.4 0 1,0 16.8,0a8.4,8.4 0 1,0 -16.8,0ZM1203.0,757.4a8.4,8.4 0 1,0 16.8,0a8.4,8.4 0 1,0 -16.8,0ZM1205.6,762.6a8.4,8.4 0 1,0 16.8,0a8.4,8.4 0 1,0 -16.8,0ZM1208.2,756.2a8.4,8.4 0 1,0 16.8,0a8.4,8.4 0 1,0 -16.8,0ZM1210.8,757.4a8.4,8.4 0 1,0 16.8,0a8.4,8.4 0 1,0 -16.8,0ZM1213.4,763.1a8.4,8.4 0 1,0 16.8,0a8.4,8.4 0 1,0 -16.8,0ZM1216.0,762.7a8.4,8.4 0 1,0 16.8,0a8.4,8.4 0 1,0 -16.8,0ZM1218.6,760.5a8.4,8.4 0 1,0 16.8,0a8.4,8.4 0 1,0 -16.8,0ZM1221.2,756.7a8.4,8.4 0 1,0 16.8,0a8.4,8.4 0 1,0 -16.8,0ZM1223.8,760.4a8.4,8.4 0 1,0 16.8,0a8.4,8.4 0 1,0 -16.8,0ZM1226.4,759.8a8.4,8.4 0 1,0 16.8,0a8.4,8.4 0 1,0 -16.8,0ZM1229.0,763.5a8.4,8.4 0 1,0 16.8,0a8.4,8.4 0 1,0 -16.8,0ZM1231.6,767.9a8.4,8.4 0 1,0 16.8,0a8.4,8.4 0 1,0 -16.8,0ZM1234.2,762.8a8.4,8.4 0 1,0 16.8,0a8.4,8.4 0 1,0 -16.8,0ZM1236.8,760.3a8.4,8.4 0 1,0 16.8,0a8.4,8.4 0 1,0 -16.8,0ZM1239.4,759.4a8.4,8.4 0 1,0 16.8,0a8.4,8.4 0 1,0 -16.8,0ZM1242.0,762.3a8.4,8.4 0 1,0 16.8,0a8.4,8.4 0 1,0 -16.8,0ZM1244.6,761.9a8.4,8.4 0 1,0 16.8,0a8.4,8.4 0 1,0 -16.8,0ZM1247.2,759.2a8.4,8.4 0 1,0 16.8,0a8.4,8.4 0 1,0 -16.8,0ZM1249.8,762.3a8.4,8.4 0 1,0 16.8,0a8.4,8.4 0 1,0 -16.8,0ZM1252.4,758.8a8.4,8.4 0 1,0 16.8,0a8.4,8.4 0 1,0 -16.8,0ZM1255.0,764.5a8.4,8.4 0 1,0 16.8,0a8.4,8.4 0 1,0 -16.8,0ZM1257.6,764.2a8.4,8.4 0 1,0 16.8,0a8.4,8.4 0 1,0 -16.8,0ZM1260.2,764.1a8.4,8.4 0 1,0 16.8,0a8.4,8.4 0 1,0 -16.8,0ZM1262.8,759.9a8.4,8.4 0 1,0 16.8,0a8.4,8.4 0 1,0 -16.8,0ZM1265.4,762.4a8.4,8.4 0 1,0 16.8,0a8.4,8.4 0 1,0 -16.8,0ZM1268.0,760.6a8.4,8.4 0 1,0 16.8,0a8.4,8.4 0 1,0 -16.8,0ZM1270.6,759.8a8.4,8.4 0 1,0 16.8,0a8.4,8.4 0 1,0 -16.8,0ZM1273.2,759.8a8.4,8.4 0 1,0 16.8,0a8.4,8.4 0 1,0 -16.8,0ZM1275.8,757.2a8.4,8.4 0 1,0 16.8,0a8.4,8.4 0 1,0 -16.8,0ZM1278.4,756.9a8.4,8.4 0 1,0 16.8,0a8.4,8.4 0 1,0 -16.8,0ZM1281.0,762.7a8.4,8.4 0 1,0 16.8,0a8.4,8.4 0 1,0 -16.8,0ZM1283.6,760.2a8.4,8.4 0 1,0 16.8,0a8.4,8.4 0 1,0 -16.8,0ZM1286.2,761.3a8.4,8.4 0 1,0 16.8,0a8.4,8.4 0 1,0 -16.8,0ZM1288.8,762.5a8.4,8.4 0 1,0 16.8,0a8.4,8.4 0 1,0 -16.8,0ZM1291.4,754.5a8.4,8.4 0 1,0 16.8,0a8.4,8.4 0 1,0 -16.8,0ZM1294.0,756.2a8.4,8.4 0 1,0 16.8,0a8.4,8.4 0 1,0 -16.8,0ZM1296.6,757.6a8.4,8.4 0 1,0 16.8,0a8.4,8.4 0 1,0 -16.8,0ZM1299.2,756.5a8.4,8.4 0 1,0 16.8,0a8.4,8.4 0 1,0 -16.8,0ZM1301.8,752.9a8.4,8.4 0 1,0 16.8,0a8.4,8.4 0 1,0 -16.8,0ZM1304.4,754.7a8.4,8.4 0 1,0 16.8,0a8.4,8.4 0 1,0 -16.8,0ZM1307.0,750.6a8.4,8.4 0 1,0 16.8,0a8.4,8.4 0 1,0 -16.8,0ZM1309.6,745.4a8.4,8.4 0 1,0 16.8,0a8.4,8.4 0 1,0 -16.8,0ZM1312.2,744.8a8.4,8.4 0 1,0 16.8,0a8.4,8.4 0 1,0 -16.8,0ZM1314.8,748.0a8.4,8.4 0 1,0 16.8,0a8.4,8.4 0 1,0 -16.8,0ZM1317.4,746.2a8.4,8.4 0 1,0 16.8,0a8.4,8.4 0 1,0 -16.8,0ZM1320.0,739.8a8.4,8.4 0 1,0 16.8,0a8.4,8.4 0 1,0 -16.8,0ZM1322.6,748.0a8.4,8.4 0 1,0 16.8,0a8.4,8.4 0 1,0 -16.8,0ZM1325.2,745.9a8.4,8.4 0 1,0 16.8,0a8.4,8.4 0 1,0 -16.8,0ZM1327.8,747.7a8.4,8.4 0 1,0 16.8,0a8.4,8.4 0 1,0 -16.8,0ZM1330.4,742.9a8.4,8.4 0 1,0 16.8,0a8.4,8.4 0 1,0 -16.8,0ZM1333.0,742.9a8.4,8.4 0 1,0 16.8,0a8.4,8.4 0 1,0 -16.8,0ZM1335.6,740.5a8.4,8.4 0 1,0 16.8,0a8.4,8.4 0 1,0 -16.8,0ZM1338.2,750.8a8.4,8.4 0 1,0 16.8,0a8.4,8.4 0 1,0 -16.8,0ZM1340.8,745.1a8.4,8.4 0 1,0 16.8,0a8.4,8.4 0 1,0 -16.8,0ZM1343.4,751.0a8.4,8.4 0 1,0 16.8,0a8.4,8.4 0 1,0 -16.8,0ZM1346.0,749.2a8.4,8.4 0 1,0 16.8,0a8.4,8.4 0 1,0 -16.8,0ZM1348.6,756.1a8.4,8.4 0 1,0 16.8,0a8.4,8.4 0 1,0 -16.8,0ZM1351.2,751.6a8.4,8.4 0 1,0 16.8,0a8.4,8.4 0 1,0 -16.8,0ZM1353.8,765.8a8.4,8.4 0 1,0 16.8,0a8.4,8.4 0 1,0 -16.8,0ZM1356.4,780.5a8.4,8.4 0 1,0 16.8,0a8.4,8.4 0 1,0 -16.8,0ZM1359.0,773.4a8.4,8.4 0 1,0 16.8,0a8.4,8.4 0 1,0 -16.8,0ZM1361.6,792.3a8.4,8.4 0 1,0 16.8,0a8.4,8.4 0 1,0 -16.8,0ZM1364.2,793.4a8.4,8.4 0 1,0 16.8,0a8.4,8.4 0 1,0 -16.8,0ZM1366.8,790.5a8.4,8.4 0 1,0 16.8,0a8.4,8.4 0 1,0 -16.8,0ZM1369.4,798.7a8.4,8.4 0 1,0 16.8,0a8.4,8.4 0 1,0 -16.8,0ZM1372.0,803.8a8.4,8.4 0 1,0 16.8,0a8.4,8.4 0 1,0 -16.8,0ZM1374.6,810.2a8.4,8.4 0 1,0 16.8,0a8.4,8.4 0 1,0 -16.8,0ZM1377.2,811.5a8.4,8.4 0 1,0 16.8,0a8.4,8.4 0 1,0 -16.8,0ZM1379.8,813.9a8.4,8.4 0 1,0 16.8,0a8.4,8.4 0 1,0 -16.8,0ZM1382.4,821.4a8.4,8.4 0 1,0 16.8,0a8.4,8.4 0 1,0 -16.8,0ZM1385.0,822.5a8.4,8.4 0 1,0 16.8,0a8.4,8.4 0 1,0 -16.8,0ZM1387.6,826.4a8.4,8.4 0 1,0 16.8,0a8.4,8.4 0 1,0 -16.8,0ZM1390.2,838.6a8.4,8.4 0 1,0 16.8,0a8.4,8.4 0 1,0 -16.8,0ZM1392.8,848.2a8.4,8.4 0 1,0 16.8,0a8.4,8.4 0 1,0 -16.8,0ZM1395.4,838.6a8.4,8.4 0 1,0 16.8,0a8.4,8.4 0 1,0 -16.8,0ZM1398.0,851.3a8.4,8.4 0 1,0 16.8,0a8.4,8.4 0 1,0 -16.8,0ZM1400.6,850.7a8.4,8.4 0 1,0 16.8,0a8.4,8.4 0 1,0 -16.8,0ZM1403.2,851.7a8.4,8.4 0 1,0 16.8,0a8.4,8.4 0 1,0 -16.8,0ZM1405.8,864.9a8.4,8.4 0 1,0 16.8,0a8.4,8.4 0 1,0 -16.8,0ZM1408.4,859.7a8.4,8.4 0 1,0 16.8,0a8.4,8.4 0 1,0 -16.8,0ZM1411.0,873.9a8.4,8.4 0 1,0 16.8,0a8.4,8.4 0 1,0 -16.8,0ZM1413.6,861.3a8.4,8.4 0 1,0 16.8,0a8.4,8.4 0 1,0 -16.8,0ZM1416.2,872.5a8.4,8.4 0 1,0 16.8,0a8.4,8.4 0 1,0 -16.8,0ZM1418.8,870.0a8.4,8.4 0 1,0 16.8,0a8.4,8.4 0 1,0 -16.8,0ZM1421.4,868.5a8.4,8.4 0 1,0 16.8,0a8.4,8.4 0 1,0 -16.8,0ZM1424.0,881.8a8.4,8.4 0 1,0 16.8,0a8.4,8.4 0 1,0 -16.8,0ZM1426.6,879.1a8.4,8.4 0 1,0 16.8,0a8.4,8.4 0 1,0 -16.8,0ZM1429.2,888.3a8.4,8.4 0 1,0 16.8,0a8.4,8.4 0 1,0 -16.8,0ZM1431.8,886.6a8.4,8.4 0 1,0 16.8,0a8.4,8.4 0 1,0 -16.8,0ZM1434.4,881.9a8.4,8.4 0 1,0 16.8,0a8.4,8.4 0 1,0 -16.8,0ZM1437.0,892.5a8.4,8.4 0 1,0 16.8,0a8.4,8.4 0 1,0 -16.8,0ZM1439.6,895.0a8.4,8.4 0 1,0 16.8,0a8.4,8.4 0 1,0 -16.8,0ZM1442.2,902.9a8.4,8.4 0 1,0 16.8,0a8.4,8.4 0 1,0 -16.8,0ZM1444.8,889.0a8.4,8.4 0 1,0 16.8,0a8.4,8.4 0 1,0 -16.8,0ZM1447.4,896.2a8.4,8.4 0 1,0 16.8,0a8.4,8.4 0 1,0 -16.8,0ZM1450.0,883.3a8.4,8.4 0 1,0 16.8,0a8.4,8.4 0 1,0 -16.8,0ZM1452.6,901.8a8.4,8.4 0 1,0 16.8,0a8.4,8.4 0 1,0 -16.8,0ZM1455.2,888.2a8.4,8.4 0 1,0 16.8,0a8.4,8.4 0 1,0 -16.8,0ZM1457.8,882.5a8.4,8.4 0 1,0 16.8,0a8.4,8.4 0 1,0 -16.8,0ZM1460.4,896.2a8.4,8.4 0 1,0 16.8,0a8.4,8.4 0 1,0 -16.8,0ZM1463.0,905.5a8.4,8.4 0 1,0 16.8,0a8.4,8.4 0 1,0 -16.8,0ZM1465.6,885.5a8.4,8.4 0 1,0 16.8,0a8.4,8.4 0 1,0 -16.8,0ZM1468.2,889.3a8.4,8.4 0 1,0 16.8,0a8.4,8.4 0 1,0 -16.8,0ZM1470.8,892.3a8.4,8.4 0 1,0 16.8,0a8.4,8.4 0 1,0 -16.8,0ZM1473.4,889.5a8.4,8.4 0 1,0 16.8,0a8.4,8.4 0 1,0 -16.8,0ZM1476.0,901.2a8.4,8.4 0 1,0 16.8,0a8.4,8.4 0 1,0 -16.8,0ZM1478.6,891.7a8.4,8.4 0 1,0 16.8,0a8.4,8.4 0 1,0 -16.8,0ZM1481.2,891.9a8.4,8.4 0 1,0 16.8,0a8.4,8.4 0 1,0 -16.8,0ZM1483.8,901.2a8.4,8.4 0 1,0 16.8,0a8.4,8.4 0 1,0 -16.8,0ZM1486.4,889.7a8.4,8.4 0 1,0 16.8,0a8.4,8.4 0 1,0 -16.8,0ZM1489.0,898.1a8.4,8.4 0 1,0 16.8,0a8.4,8.4 0 1,0 -16.8,0ZM1491.6,886.4a8.4,8.4 0 1,0 16.8,0a8.4,8.4 0 1,0 -16.8,0ZM1494.2,883.8a8.4,8.4 0 1,0 16.8,0a8.4,8.4 0 1,0 -16.8,0ZM1496.8,878.2a8.4,8.4 0 1,0 16.8,0a8.4,8.4 0 1,0 -16.8,0ZM1499.4,906.3a8.4,8.4 0 1,0 16.8,0a8.4,8.4 0 1,0 -16.8,0ZM254.0,820.5a8.5,8.5 0 1,0 17.0,0a8.5,8.5 0 1,0 -17.0,0Z" fill="#f00"/>
<path d="M264,716V676" stroke="#00f" stroke-width="2.5"/>
<path d="M265.0,671.5L267.6,670.7L270.2,671.5L272.8,671.5L275.4,671.1L278.0,672.6L280.6,668.7L283.2,672.4L285.8,671.6L288.4,670.0L291.0,669.4L293.6,669.6L296.2,669.4L298.8,669.4L301.4,669.1L304.0,666.4L306.6,668.9L309.2,667.6L311.8,666.2L314.4,664.9L317.0,668.1L319.6,668.3L322.2,668.6L324.8,667.7L327.4,667.5L330.0,668.1L332.6,667.6L335.2,668.3L337.8,669.9L340.4,668.3L343.0,669.3L345.6,668.0L348.2,669.0L350.8,668.6L353.4,668.8L356.0,669.2L358.6,669.9L361.2,669.0L363.8,669.0L366.4,668.3L369.0,669.2L371.6,668.7L374.2,669.3L376.8,668.8L379.4,669.8L382.0,667.6L384.6,668.5L387.2,669.2L389.8,668.5L392.4,668.1L395.0,666.5L397.6,667.7L400.2,668.5L402.8,669.8L405.4,668.9L408.0,667.5L410.6,667.6L413.2,668.0L415.8,668.9L418.4,667.9L421.0,668.1L423.6,669.2L426.2,666.7L428.8,668.6L431.4,668.2L434.0,665.9L436.6,668.5L439.2,667.6L441.8,669.4L444.4,668.5L447.0,669.1L449.6,669.9L452.2,669.5L454.8,668.1L457.4,669.2L460.0,669.4L462.6,664.9L465.2,668.0L467.8,668.5L470.4,667.5L473.0,669.3L475.6,666.9L478.2,667.6L480.8,668.2L483.4,668.2L486.0,668.6L488.6,668.8L491.2,668.7L493.8,669.7L496.4,667.8L499.0,665.8L501.6,668.7L504.2,669.1L506.8,669.1L509.4,668.3L512.0,668.3L514.6,669.0L517.2,668.6L519.8,667.8L522.4,669.4L525.0,669.5L527.6,667.2L530.2,668.2L532.8,669.6L535.4,668.6L538.0,668.3L540.6,668.1L543.2,668.0L545.8,668.2L548.4,668.1L551.0,668.9L553.6,668.3L556.2,668.3L558.8,667.8L561.4,668.5L564.0,668.0L566.6,668.3L569.2,669.0L571.8,668.4L574.4,668.4L577.0,668.2L579.6,668.0L582.2,667.9L584.8,667.8L587.4,668.5L590.0,667.5L592.6,669.1L595.2,668.5L597.8,668.1L600.4,668.3L603.0,668.3L605.6,668.8L608.2,668.2L610.8,669.3L613.4,668.1L616.0,667.2L618.6,668.1L621.2,667.4L623.8,668.5L626.4,669.2L629.0,668.9L631.6,667.7L634.2,668.0L636.8,669.5L639.4,668.7L642.0,668.5L644.6,669.2L647.2,670.1L649.8,669.4L652.4,668.8L655.0,669.0L657.6,669.3L660.2,668.6L662.8,668.4L665.4,669.1L668.0,668.4L670.6,668.8L673.2,668.8L675.8,670.0L678.4,667.9L681.0,668.3L683.6,668.2L686.2,668.5L688.8,668.9L691.4,668.0L694.0,667.8L696.6,667.3L699.2,667.7L701.8,668.6L704.4,668.3L707.0,667.7L709.6,668.1L712.2,665.0L714.8,668.7L717.4,668.1L720.0,666.6L722.6,667.5L725.2,667.9L727.8,669.6L730.4,667.4L733.0,668.4L735.6,668.6L738.2,668.1L740.8,667.7L743.4,668.0L746.0,668.0L748.6,667.9L751.2,666.8L753.8,664.9L756.4,667.5L759.0,667.6L761.6,668.1L764.2,668.3L766.8,668.4L769.4,667.6L772.0,668.5L774.6,668.7L777.2,668.8L779.8,669.0L782.4,665.0L785.0,668.1L787.6,668.7L790.2,665.4L792.8,668.4L795.4,668.0L798.0,668.1L800.6,667.4L803.2,668.0L805.8,668.6L808.4,669.3L811.0,669.5L813.6,669.0L816.2,669.0L818.8,668.7L821.4,669.4L824.0,669.0L826.6,669.5L829.2,670.0L831.8,668.9L834.4,667.9L837.0,668.1L839.6,667.7L842.2,667.8L844.8,669.3L847.4,668.6L850.0,667.5L852.6,668.8L855.2,666.9L857.8,668.1L860.4,667.8L863.0,668.0L865.6,668.4L868.2,668.6L870.8,669.0L873.4,669.0L876.0,669.1L878.6,669.2L881.2,665.5L883.8,667.6L886.4,668.5L889.0,668.8L891.6,668.3L894.2,669.1L896.8,668.4L899.4,668.0L902.0,669.5L904.6,669.0L907.2,666.8L909.8,669.3L912.4,669.4L915.0,669.0L917.6,667.4L920.2,668.4L922.8,668.5L925.4,668.1L928.0,668.7L930.6,669.2L933.2,668.2L935.8,667.8L938.4,669.8L941.0,668.4L943.6,668.1L946.2,669.0L948.8,669.2L951.4,668.6L954.0,669.4L956.6,668.6L959.2,665.1L961.8,668.9L964.4,669.2L967.0,668.3L969.6,668.8L972.2,665.7L974.8,670.2L977.4,668.1L980.0,669.3L982.6,668.5L985.2,668.5L987.8,669.1L990.4,669.2L993.0,669.5L995.6,669.0L998.2,668.4L1000.8,668.5L1003.4,669.0L1006.0,669.0L1008.6,669.4L1011.2,668.7L1013.8,669.0L1016.4,666.1L1019.0,668.2L1021.6,667.2L1024.2,667.3L1026.8,667.1L1029.4,668.9L1032.0,667.4L1034.6,668.6L1037.2,668.3L1039.8,669.0L1042.4,668.6L1045.0,668.0L1047.6,668.0L1050.2,668.3L1052.8,668.4L1055.4,668.1L1058.0,668.5L1060.6,666.2L1063.2,665.5L1065.8,668.9L1068.4,668.3L1071.0,669.0L1073.6,669.4L1076.2,668.8L1078.8,669.3L1081.4,667.9L1084.0,669.6L1086.6,668.6L1089.2,669.4L1091.8,667.2L1094.4,667.5L1097.0,668.6L1099.6,669.1L1102.2,669.9L1104.8,669.0L1107.4,666.4L1110.0,667.9L1112.6,669.5L1115.2,669.7L1117.8,668.5L1120.4,668.3L1123.0,667.4L1125.6,668.8L1128.2,669.8L1130.8,668.6L1133.4,668.9L1136.0,668.5L1138.6,664.4L1141.2,669.0L1143.8,667.5L1146.4,668.1L1149.0,668.4L1151.6,668.7L1154.2,666.8L1156.8,668.5L1159.4,667.9L1162.0,667.7L1164.6,668.7L1167.2,668.4L1169.8,668.1L1172.4,668.2L1175.0,668.7L1177.6,667.9L1180.2,668.2L1182.8,668.1L1185.4,669.2L1188.0,669.4L1190.6,670.4L1193.2,668.3L1195.8,668.7L1198.4,669.7L1201.0,669.0L1203.6,668.9L1206.2,667.3L1208.8,668.8L1211.4,668.3L1214.0,668.2L1216.6,669.2L1219.2,669.2L1221.8,668.1L1224.4,668.3L1227.0,669.1L1229.6,669.1L1232.2,668.3L1234.8,669.1L1237.4,669.1L1240.0,667.7L1242.6,668.7L1245.2,669.2L1247.8,668.6L1250.4,667.7L1253.0,668.7L1255.6,669.3L1258.2,669.7L1260.8,667.4L1263.4,670.1L1266.0,667.8L1268.6,669.0L1271.2,669.1L1273.8,668.9L1276.4,668.5L1279.0,667.8L1281.6,668.9L1284.2,668.3L1286.8,667.3L1289.4,670.6L1292.0,669.4L1294.6,670.1L1297.2,668.4L1299.8,669.8L1302.4,669.8L1305.0,669.7L1307.6,668.7L1310.2,668.0L1312.8,668.6L1315.4,667.3L1318.0,667.6L1320.6,668.6L1323.2,667.9L1325.8,668.3L1328.4,669.7L1331.0,672.5L1333.6,676.0L1336.2,680.5L1338.8,686.5L1341.4,690.3L1344.0,695.6L1346.6,701.5L1349.2,706.3L1351.8,713.0L1354.4,720.6L1357.0,730.1L1359.6,740.1L1362.2,747.1L1364.8,756.0L1367.4,763.1L1370.0,770.7L1372.6,778.5L1375.2,787.9L1377.8,796.8L1380.4,803.0L1383.0,808.5L1385.6,815.6L1388.2,819.7L1390.8,824.7L1393.4,828.7L1396.0,832.3L1398.6,836.7L1401.2,835.3L1403.8,838.5L1406.4,836.4L1409.0,843.7L1411.6,841.7L1414.2,847.0L1416.8,844.8L1419.4,849.1L1422.0,850.1L1424.6,842.7L1427.2,844.2L1429.8,843.2L1432.4,851.7L1435.0,857.9L1437.6,857.6L1440.2,855.9L1442.8,863.5L1445.4,853.7L1448.0,865.5L1450.6,858.8L1453.2,852.2L1455.8,872.4L1458.4,868.0L1461.0,858.1L1463.6,861.8L1466.2,859.6L1468.8,859.8L1471.4,853.3L1474.0,855.4L1476.6,858.5L1479.2,856.5L1481.8,858.8L1484.4,853.7L1487.0,862.6L1489.6,853.1L1492.2,858.4L1494.8,852.7L1497.4,857.4L1500.0,869.1L1502.6,862.2L1505.2,868.8L1507.8,867.7" stroke="#00f" stroke-width="3" fill="none"/>
<path d="M255.0,677.2L265.0,660.2L275.0,677.2ZM257.6,676.4L267.6,659.4L277.6,676.4ZM260.2,677.1L270.2,660.1L280.2,677.1ZM262.8,677.2L272.8,660.2L282.8,677.2ZM265.4,676.7L275.4,659.7L285.4,676.7ZM268.0,678.2L278.0,661.2L288.0,678.2ZM270.6,674.3L280.6,657.3L290.6,674.3ZM273.2,678.1L283.2,661.1L293.2,678.1ZM275.8,677.3L285.8,660.3L295.8,677.3ZM278.4,675.6L288.4,658.6L298.4,675.6ZM281.0,675.1L291.0,658.1L301.0,675.1ZM283.6,675.3L293.6,658.3L303.6,675.3ZM286.2,675.1L296.2,658.1L306.2,675.1ZM288.8,675.0L298.8,658.0L308.8,675.0ZM291.4,674.8L301.4,657.8L311.4,674.8ZM294.0,672.0L304.0,655.0L314.0,672.0ZM296.6,674.6L306.6,657.6L316.6,674.6ZM299.2,673.3L309.2,656.3L319.2,673.3ZM301.8,671.9L311.8,654.9L321.8,671.9ZM304.4,670.5L314.4,653.5L324.4,670.5ZM307.0,673.8L317.0,656.8L327.0,673.8ZM309.6,674.0L319.6,657.0L329.6,674.0ZM312.2,674.3L322.2,657.3L332.2,674.3ZM314.8,673.3L324.8,656.3L334.8,673.3ZM317.4,673.2L327.4,656.2L337.4,673.2ZM320.0,673.7L330.0,656.7L340.0,673.7ZM322.6,673.3L332.6,656.3L342.6,673.3ZM325.2,674.0L335.2,657.0L345.2,674.0ZM327.8,675.6L337.8,658.6L347.8,675.6ZM330.4,674.0L340.4,657.0L350.4,674.0ZM333.0,675.0L343.0,658.0L353.0,675.0ZM335.6,673.7L345.6,656.7L355.6,673.7ZM338.2,674.7L348.2,657.7L358.2,674.7ZM340.8,674.3L350.8,657.3L360.8,674.3ZM343.4,674.5L353.4,657.5L363.4,674.5ZM346.0,674.9L356.0,657.9L366.0,674.9ZM348.6,675.6L358.6,658.6L368.6,675.6ZM351.2,674.7L361.2,657.7L371.2,674.7ZM353.8,674.6L363.8,657.6L373.8,674.6ZM356.4,674.0L366.4,657.0L376.4,674.0ZM359.0,674.9L369.0,657.9L379.0,674.9ZM361.6,674.4L371.6,657.4L381.6,674.4ZM364.2,675.0L374.2,658.0L384.2,675.0ZM366.8,674.4L376.8,657.4L386.8,674.4ZM369.4,675.5L379.4,658.5L389.4,675.5ZM372.0,673.2L382.0,656.2L392.0,673.2ZM374.6,674.2L384.6,657.2L394.6,674.2ZM377.2,674.9L387.2,657.9L397.2,674.9ZM379.8,674.1L389.8,657.1L399.8,674.1ZM382.4,673.8L392.4,656.8L402.4,673.8ZM385.0,672.2L395.0,655.2L405.0,672.2ZM387.6,673.3L397.6,656.3L407.6,673.3ZM390.2,674.1L400.2,657.1L410.2,674.1ZM392.8,675.4L402.8,658.4L412.8,675.4ZM395.4,674.6L405.4,657.6L415.4,674.6ZM398.0,673.2L408.0,656.2L418.0,673.2ZM400.6,673.3L410.6,656.3L420.6,673.3ZM403.2,673.6L413.2,656.6L423.2,673.6ZM405.8,674.6L415.8,657.6L425.8,674.6ZM408.4,673.6L418.4,656.6L428.4,673.6ZM411.0,673.8L421.0,656.8L431.0,673.8ZM413.6,674.9L423.6,657.9L433.6,674.9ZM416.2,672.3L426.2,655.3L436.2,672.3ZM418.8,674.3L428.8,657.3L438.8,674.3ZM421.4,673.9L431.4,656.9L441.4,673.9ZM424.0,671.6L434.0,654.6L444.0,671.6ZM426.6,674.2L436.6,657.2L446.6,674.2ZM429.2,673.2L439.2,656.2L449.2,673.2ZM431.8,675.0L441.8,658.0L451.8,675.0ZM434.4,674.2L444.4,657.2L454.4,674.2ZM437.0,674.8L447.0,657.8L457.0,674.8ZM439.6,675.6L449.6,658.6L459.6,675.6ZM442.2,675.2L452.2,658.2L462.2,675.2ZM444.8,673.7L454.8,656.7L464.8,673.7ZM447.4,674.9L457.4,657.9L467.4,674.9ZM450.0,675.0L460.0,658.0L470.0,675.0ZM452.6,670.6L462.6,653.6L472.6,670.6ZM455.2,673.7L465.2,656.7L475.2,673.7ZM457.8,674.1L467.8,657.1L477.8,674.1ZM460.4,673.2L470.4,656.2L480.4,673.2ZM463.0,675.0L473.0,658.0L483.0,675.0ZM465.6,672.6L475.6,655.6L485.6,672.6ZM468.2,673.3L478.2,656.3L488.2,673.3ZM470.8,673.8L480.8,656.8L490.8,673.8ZM473.4,673.9L483.4,656.9L493.4,673.9ZM476.0,674.3L486.0,657.3L496.0,674.3ZM478.6,674.5L488.6,657.5L498.6,674.5ZM481.2,674.4L491.2,657.4L501.2,674.4ZM483.8,675.3L493.8,658.3L503.8,675.3ZM486.4,673.5L496.4,656.5L506.4,673.5ZM489.0,671.4L499.0,654.4L509.0,671.4ZM491.6,674.4L501.6,657.4L511.6,674.4ZM494.2,674.8L504.2,657.8L514.2,674.8ZM496.8,674.8L506.8,657.8L516.8,674.8ZM499.4,673.9L509.4,656.9L519.4,673.9ZM502.0,673.9L512.0,656.9L522.0,673.9ZM504.6,674.6L514.6,657.6L524.6,674.6ZM507.2,674.2L517.2,657.2L527.2,674.2ZM509.8,673.5L519.8,656.5L529.8,673.5ZM512.4,675.0L522.4,658.0L532.4,675.0ZM515.0,675.1L525.0,658.1L535.0,675.1ZM517.6,672.8L527.6,655.8L537.6,672.8ZM520.2,673.9L530.2,656.9L540.2,673.9ZM522.8,675.3L532.8,658.3L542.8,675.3ZM525.4,674.3L535.4,657.3L545.4,674.3ZM528.0,674.0L538.0,657.0L548.0,674.0ZM530.6,673.8L540.6,656.8L550.6,673.8ZM533.2,673.6L543.2,656.6L553.2,673.6ZM535.8,673.9L545.8,656.9L555.8,673.9ZM538.4,673.8L548.4,656.8L558.4,673.8ZM541.0,674.6L551.0,657.6L561.0,674.6ZM543.6,673.9L553.6,656.9L563.6,673.9ZM546.2,674.0L556.2,657.0L566.2,674.0ZM548.8,673.5L558.8,656.5L568.8,673.5ZM551.4,674.2L561.4,657.2L571.4,674.2ZM554.0,673.6L564.0,656.6L574.0,673.6ZM556.6,674.0L566.6,657.0L576.6,674.0ZM559.2,674.6L569.2,657.6L579.2,674.6ZM561.8,674.1L571.8,657.1L581.8,674.1ZM564.4,674.1L574.4,657.1L584.4,674.1ZM567.0,673.9L577.0,656.9L587.0,673.9ZM569.6,673.6L579.6,656.6L589.6,673.6ZM572.2,673.5L582.2,656.5L592.2,673.5ZM574.8,673.5L584.8,656.5L594.8,673.5ZM577.4,674.2L587.4,657.2L597.4,674.2ZM580.0,673.2L590.0,656.2L600.0,673.2ZM582.6,674.8L592.6,657.8L602.6,674.8ZM585.2,674.1L595.2,657.1L605.2,674.1ZM587.8,673.8L597.8,656.8L607.8,673.8ZM590.4,674.0L600.4,657.0L610.4,674.0ZM593.0,673.9L603.0,656.9L613.0,673.9ZM595.6,674.5L605.6,657.5L615.6,674.5ZM598.2,673.9L608.2,656.9L618.2,673.9ZM600.8,675.0L610.8,658.0L620.8,675.0ZM603.4,673.8L613.4,656.8L623.4,673.8ZM606.0,672.9L616.0,655.9L626.0,672.9ZM608.6,673.8L618.6,656.8L628.6,673.8ZM611.2,673.0L621.2,656.0L631.2,673.0ZM613.8,674.2L623.8,657.2L633.8,674.2ZM616.4,674.9L626.4,657.9L636.4,674.9ZM619.0,674.6L629.0,657.6L639.0,674.6ZM621.6,673.4L631.6,656.4L641.6,673.4ZM624.2,673.7L634.2,656.7L644.2,673.7ZM626.8,675.2L636.8,658.2L646.8,675.2ZM629.4,674.3L639.4,657.3L649.4,674.3ZM632.0,674.2L642.0,657.2L652.0,674.2ZM634.6,674.8L644.6,657.8L654.6,674.8ZM637.2,675.7L647.2,658.7L657.2,675.7ZM639.8,675.1L649.8,658.1L659.8,675.1ZM642.4,674.5L652.4,657.5L662.4,674.5ZM645.0,674.7L655.0,657.7L665.0,674.7ZM647.6,675.0L657.6,658.0L667.6,675.0ZM650.2,674.3L660.2,657.3L670.2,674.3ZM652.8,674.1L662.8,657.1L672.8,674.1ZM655.4,674.8L665.4,657.8L675.4,674.8ZM658.0,674.1L668.0,657.1L678.0,674.1ZM660.6,674.5L670.6,657.5L680.6,674.5ZM663.2,674.5L673.2,657.5L683.2,674.5ZM665.8,675.6L675.8,658.6L685.8,675.6ZM668.4,673.6L678.4,656.6L688.4,673.6ZM671.0,673.9L681.0,656.9L691.0,673.9ZM673.6,673.9L683.6,656.9L693.6,673.9ZM676.2,674.2L686.2,657.2L696.2,674.2ZM678.8,674.6L688.8,657.6L698.8,674.6ZM681.4,673.6L691.4,656.6L701.4,673.6ZM684.0,673.5L694.0,656.5L704.0,673.5ZM686.6,673.0L696.6,656.0L706.6,673.0ZM689.2,673.4L699.2,656.4L709.2,673.4ZM691.8,674.3L701.8,657.3L711.8,674.3ZM694.4,674.0L704.4,657.0L714.4,674.0ZM697.0,673.4L707.0,656.4L717.0,673.4ZM699.6,673.8L709.6,656.8L719.6,673.8ZM702.2,670.7L712.2,653.7L722.2,670.7ZM704.8,674.3L714.8,657.3L724.8,674.3ZM707.4,673.7L717.4,656.7L727.4,673.7ZM710.0,672.3L720.0,655.3L730.0,672.3ZM712.6,673.1L722.6,656.1L732.6,673.1ZM715.2,673.6L725.2,656.6L735.2,673.6ZM717.8,675.3L727.8,658.3L737.8,675.3ZM720.4,673.0L730.4,656.0L740.4,673.0ZM723.0,674.1L733.0,657.1L743.0,674.1ZM725.6,674.3L735.6,657.3L745.6,674.3ZM728.2,673.8L738.2,656.8L748.2,673.8ZM730.8,673.4L740.8,656.4L750.8,673.4ZM733.4,673.7L743.4,656.7L753.4,673.7ZM736.0,673.7L746.0,656.7L756.0,673.7ZM738.6,673.6L748.6,656.6L758.6,673.6ZM741.2,672.5L751.2,655.5L761.2,672.5ZM743.8,670.6L753.8,653.6L763.8,670.6ZM746.4,673.1L756.4,656.1L766.4,673.1ZM749.0,673.3L759.0,656.3L769.0,673.3ZM751.6,673.7L761.6,656.7L771.6,673.7ZM754.2,674.0L764.2,657.0L774.2,674.0ZM756.8,674.1L766.8,657.1L776.8,674.1ZM759.4,673.3L769.4,656.3L779.4,673.3ZM762.0,674.2L772.0,657.2L782.0,674.2ZM764.6,674.4L774.6,657.4L784.6,674.4ZM767.2,674.4L777.2,657.4L787.2,674.4ZM769.8,674.7L779.8,657.7L789.8,674.7ZM772.4,670.6L782.4,653.6L792.4,670.6ZM775.0,673.8L785.0,656.8L795.0,673.8ZM777.6,674.4L787.6,657.4L797.6,674.4ZM780.2,671.0L790.2,654.0L800.2,671.0ZM782.8,674.0L792.8,657.0L802.8,674.0ZM785.4,673.6L795.4,656.6L805.4,673.6ZM788.0,673.8L798.0,656.8L808.0,673.8ZM790.6,673.0L800.6,656.0L810.6,673.0ZM793.2,673.7L803.2,656.7L813.2,673.7ZM795.8,674.3L805.8,657.3L815.8,674.3ZM798.4,675.0L808.4,658.0L818.4,675.0ZM801.0,675.2L811.0,658.2L821.0,675.2ZM803.6,674.6L813.6,657.6L823.6,674.6ZM806.2,674.7L816.2,657.7L826.2,674.7ZM808.8,674.3L818.8,657.3L828.8,674.3ZM811.4,675.1L821.4,658.1L831.4,675.1ZM814.0,674.7L824.0,657.7L834.0,674.7ZM816.6,675.1L826.6,658.1L836.6,675.1ZM819.2,675.7L829.2,658.7L839.2,675.7ZM821.8,674.5L831.8,657.5L841.8,674.5ZM824.4,673.5L834.4,656.5L844.4,673.5ZM827.0,673.8L837.0,656.8L847.0,673.8ZM829.6,673.4L839.6,656.4L849.6,673.4ZM832.2,673.5L842.2,656.5L852.2,673.5ZM834.8,674.9L844.8,657.9L854.8,674.9ZM837.4,674.3L847.4,657.3L857.4,674.3ZM840.0,673.2L850.0,656.2L860.0,673.2ZM842.6,674.4L852.6,657.4L862.6,674.4ZM845.2,672.6L855.2,655.6L865.2,672.6ZM847.8,673.7L857.8,656.7L867.8,673.7ZM850.4,673.5L860.4,656.5L870.4,673.5ZM853.0,673.7L863.0,656.7L873.0,673.7ZM855.6,674.1L865.6,657.1L875.6,674.1ZM858.2,674.3L868.2,657.3L878.2,674.3ZM860.8,674.6L870.8,657.6L880.8,674.6ZM863.4,674.7L873.4,657.7L883.4,674.7ZM866.0,674.7L876.0,657.7L886.0,674.7ZM868.6,674.9L878.6,657.9L888.6,674.9ZM871.2,671.2L881.2,654.2L891.2,671.2ZM873.8,673.3L883.8,656.3L893.8,673.3ZM876.4,674.1L886.4,657.1L896.4,674.1ZM879.0,674.4L889.0,657.4L899.0,674.4ZM881.6,674.0L891.6,657.0L901.6,674.0ZM884.2,674.8L894.2,657.8L904.2,674.8ZM886.8,674.0L896.8,657.0L906.8,674.0ZM889.4,673.7L899.4,656.7L909.4,673.7ZM892.0,675.1L902.0,658.1L912.0,675.1ZM894.6,674.7L904.6,657.7L914.6,674.7ZM897.2,672.5L907.2,655.5L917.2,672.5ZM899.8,674.9L909.8,657.9L919.8,674.9ZM902.4,675.1L912.4,658.1L922.4,675.1ZM905.0,674.7L915.0,657.7L925.0,674.7ZM907.6,673.0L917.6,656.0L927.6,673.0ZM910.2,674.1L920.2,657.1L930.2,674.1ZM912.8,674.2L922.8,657.2L932.8,674.2ZM915.4,673.8L925.4,656.8L935.4,673.8ZM918.0,674.4L928.0,657.4L938.0,674.4ZM920.6,674.9L930.6,657.9L940.6,674.9ZM923.2,673.9L933.2,656.9L943.2,673.9ZM925.8,673.5L935.8,656.5L945.8,673.5ZM928.4,675.5L938.4,658.5L948.4,675.5ZM931.0,674.1L941.0,657.1L951.0,674.1ZM933.6,673.7L943.6,656.7L953.6,673.7ZM936.2,674.7L946.2,657.7L956.2,674.7ZM938.8,674.9L948.8,657.9L958.8,674.9ZM941.4,674.2L951.4,657.2L961.4,674.2ZM944.0,675.1L954.0,658.1L964.0,675.1ZM946.6,674.3L956.6,657.3L966.6,674.3ZM949.2,670.8L959.2,653.8L969.2,670.8ZM951.8,674.6L961.8,657.6L971.8,674.6ZM954.4,674.9L964.4,657.9L974.4,674.9ZM957.0,674.0L967.0,657.0L977.0,674.0ZM959.6,674.5L969.6,657.5L979.6,674.5ZM962.2,671.3L972.2,654.3L982.2,671.3ZM964.8,675.9L974.8,658.9L984.8,675.9ZM967.4,673.7L977.4,656.7L987.4,673.7ZM970.0,675.0L980.0,658.0L990.0,675.0ZM972.6,674.2L982.6,657.2L992.6,674.2ZM975.2,674.2L985.2,657.2L995.2,674.2ZM977.8,674.8L987.8,657.8L997.8,674.8ZM980.4,674.9L990.4,657.9L1000.4,674.9ZM983.0,675.2L993.0,658.2L1003.0,675.2ZM985.6,674.6L995.6,657.6L1005.6,674.6ZM988.2,674.1L998.2,657.1L1008.2,674.1ZM990.8,674.1L1000.8,657.1L1010.8,674.1ZM993.4,674.7L1003.4,657.7L1013.4,674.7ZM996.0,674.7L1006.0,657.7L1016.0,674.7ZM998.6,675.1L1008.6,658.1L1018.6,675.1ZM1001.2,674.4L1011.2,657.4L1021.2,674.4ZM1003.8,674.6L1013.8,657.6L1023.8,674.6ZM1006.4,671.7L1016.4,654.7L1026.4,671.7ZM1009.0,673.9L1019.0,656.9L1029.0,673.9ZM1011.6,672.8L1021.6,655.8L1031.6,672.8ZM1014.2,673.0L1024.2,656.0L1034.2,673.0ZM1016.8,672.8L1026.8,655.8L1036.8,672.8ZM1019.4,674.5L1029.4,657.5L1039.4,674.5ZM1022.0,673.1L1032.0,656.1L1042.0,673.1ZM1024.6,674.3L1034.6,657.3L1044.6,674.3ZM1027.2,673.9L1037.2,656.9L1047.2,673.9ZM1029.8,674.7L1039.8,657.7L1049.8,674.7ZM1032.4,674.3L1042.4,657.3L1052.4,674.3ZM1035.0,673.7L1045.0,656.7L1055.0,673.7ZM1037.6,673.7L1047.6,656.7L1057.6,673.7ZM1040.2,674.0L1050.2,657.0L1060.2,674.0ZM1042.8,674.1L1052.8,657.1L1062.8,674.1ZM1045.4,673.8L1055.4,656.8L1065.4,673.8ZM1048.0,674.2L1058.0,657.2L1068.0,674.2ZM1050.6,671.8L1060.6,654.8L1070.6,671.8ZM1053.2,671.2L1063.2,654.2L1073.2,671.2ZM1055.8,674.6L1065.8,657.6L1075.8,674.6ZM1058.4,673.9L1068.4,656.9L1078.4,673.9ZM1061.0,674.6L1071.0,657.6L1081.0,674.6ZM1063.6,675.0L1073.6,658.0L1083.6,675.0ZM1066.2,674.5L1076.2,657.5L1086.2,674.5ZM1068.8,675.0L1078.8,658.0L1088.8,675.0ZM1071.4,673.6L1081.4,656.6L1091.4,673.6ZM1074.0,675.2L1084.0,658.2L1094.0,675.2ZM1076.6,674.3L1086.6,657.3L1096.6,674.3ZM1079.2,675.1L1089.2,658.1L1099.2,675.1ZM1081.8,672.9L1091.8,655.9L1101.8,672.9ZM1084.4,673.2L1094.4,656.2L1104.4,673.2ZM1087.0,674.3L1097.0,657.3L1107.0,674.3ZM1089.6,674.8L1099.6,657.8L1109.6,674.8ZM1092.2,675.5L1102.2,658.5L1112.2,675.5ZM1094.8,674.7L1104.8,657.7L1114.8,674.7ZM1097.4,672.1L1107.4,655.1L1117.4,672.1ZM1100.0,673.6L1110.0,656.6L1120.0,673.6ZM1102.6,675.2L1112.6,658.2L1122.6,675.2ZM1105.2,675.4L1115.2,658.4L1125.2,675.4ZM1107.8,674.2L1117.8,657.2L1127.8,674.2ZM1110.4,674.0L1120.4,657.0L1130.4,674.0ZM1113.0,673.0L1123.0,656.0L1133.0,673.0ZM1115.6,674.5L1125.6,657.5L1135.6,674.5ZM1118.2,675.5L1128.2,658.5L1138.2,675.5ZM1120.8,674.3L1130.8,657.3L1140.8,674.3ZM1123.4,674.6L1133.4,657.6L1143.4,674.6ZM1126.0,674.2L1136.0,657.2L1146.0,674.2ZM1128.6,670.1L1138.6,653.1L1148.6,670.1ZM1131.2,674.7L1141.2,657.7L1151.2,674.7ZM1133.8,673.2L1143.8,656.2L1153.8,673.2ZM1136.4,673.8L1146.4,656.8L1156.4,673.8ZM1139.0,674.0L1149.0,657.0L1159.0,674.0ZM1141.6,674.4L1151.6,657.4L1161.6,674.4ZM1144.2,672.5L1154.2,655.5L1164.2,672.5ZM1146.8,674.2L1156.8,657.2L1166.8,674.2ZM1149.4,673.6L1159.4,656.6L1169.4,673.6ZM1152.0,673.4L1162.0,656.4L1172.0,673.4ZM1154.6,674.4L1164.6,657.4L1174.6,674.4ZM1157.2,674.0L1167.2,657.0L1177.2,674.0ZM1159.8,673.8L1169.8,656.8L1179.8,673.8ZM1162.4,673.9L1172.4,656.9L1182.4,673.9ZM1165.0,674.3L1175.0,657.3L1185.0,674.3ZM1167.6,673.5L1177.6,656.5L1187.6,673.5ZM1170.2,673.9L1180.2,656.9L1190.2,673.9ZM1172.8,673.7L1182.8,656.7L1192.8,673.7ZM1175.4,674.9L1185.4,657.9L1195.4,674.9ZM1178.0,675.1L1188.0,658.1L1198.0,675.1ZM1180.6,676.0L1190.6,659.0L1200.6,676.0ZM1183.2,673.9L1193.2,656.9L1203.2,673.9ZM1185.8,674.4L1195.8,657.4L1205.8,674.4ZM1188.4,675.3L1198.4,658.3L1208.4,675.3ZM1191.0,674.6L1201.0,657.6L1211.0,674.6ZM1193.6,674.5L1203.6,657.5L1213.6,674.5ZM1196.2,673.0L1206.2,656.0L1216.2,673.0ZM1198.8,674.5L1208.8,657.5L1218.8,674.5ZM1201.4,674.0L1211.4,657.0L1221.4,674.0ZM1204.0,673.9L1214.0,656.9L1224.0,673.9ZM1206.6,674.9L1216.6,657.9L1226.6,674.9ZM1209.2,674.8L1219.2,657.8L1229.2,674.8ZM1211.8,673.8L1221.8,656.8L1231.8,673.8ZM1214.4,673.9L1224.4,656.9L1234.4,673.9ZM1217.0,674.8L1227.0,657.8L1237.0,674.8ZM1219.6,674.7L1229.6,657.7L1239.6,674.7ZM1222.2,674.0L1232.2,657.0L1242.2,674.0ZM1224.8,674.8L1234.8,657.8L1244.8,674.8ZM1227.4,674.8L1237.4,657.8L1247.4,674.8ZM1230.0,673.4L1240.0,656.4L1250.0,673.4ZM1232.6,674.4L1242.6,657.4L1252.6,674.4ZM1235.2,674.8L1245.2,657.8L1255.2,674.8ZM1237.8,674.3L1247.8,657.3L1257.8,674.3ZM1240.4,673.3L1250.4,656.3L1260.4,673.3ZM1243.0,674.4L1253.0,657.4L1263.0,674.4ZM1245.6,675.0L1255.6,658.0L1265.6,675.0ZM1248.2,675.4L1258.2,658.4L1268.2,675.4ZM1250.8,673.0L1260.8,656.0L1270.8,673.0ZM1253.4,675.8L1263.4,658.8L1273.4,675.8ZM1256.0,673.5L1266.0,656.5L1276.0,673.5ZM1258.6,674.6L1268.6,657.6L1278.6,674.6ZM1261.2,674.7L1271.2,657.7L1281.2,674.7ZM1263.8,674.6L1273.8,657.6L1283.8,674.6ZM1266.4,674.1L1276.4,657.1L1286.4,674.1ZM1269.0,673.4L1279.0,656.4L1289.0,673.4ZM1271.6,674.6L1281.6,657.6L1291.6,674.6ZM1274.2,673.9L1284.2,656.9L1294.2,673.9ZM1276.8,673.0L1286.8,656.0L1296.8,673.0ZM1279.4,676.3L1289.4,659.3L1299.4,676.3ZM1282.0,675.0L1292.0,658.0L1302.0,675.0ZM1284.6,675.7L1294.6,658.7L1304.6,675.7ZM1287.2,674.1L1297.2,657.1L1307.2,674.1ZM1289.8,675.4L1299.8,658.4L1309.8,675.4ZM1292.4,675.5L1302.4,658.5L1312.4,675.5ZM1295.0,675.4L1305.0,658.4L1315.0,675.4ZM1297.6,674.4L1307.6,657.4L1317.6,674.4ZM1300.2,673.7L1310.2,656.7L1320.2,673.7ZM1302.8,674.3L1312.8,657.3L1322.8,674.3ZM1305.4,673.0L1315.4,656.0L1325.4,673.0ZM1308.0,673.2L1318.0,656.2L1328.0,673.2ZM1310.6,674.3L1320.6,657.3L1330.6,674.3ZM1313.2,673.6L1323.2,656.6L1333.2,673.6ZM1315.8,674.0L1325.8,657.0L1335.8,674.0ZM1318.4,675.4L1328.4,658.4L1338.4,675.4ZM1321.0,678.2L1331.0,661.2L1341.0,678.2ZM1323.6,681.6L1333.6,664.6L1343.6,681.6ZM1326.2,686.2L1336.2,669.2L1346.2,686.2ZM1328.8,692.2L1338.8,675.2L1348.8,692.2ZM1331.4,696.0L1341.4,679.0L1351.4,696.0ZM1334.0,701.2L1344.0,684.2L1354.0,701.2ZM1336.6,707.2L1346.6,690.2L1356.6,707.2ZM1339.2,712.0L1349.2,695.0L1359.2,712.0ZM1341.8,718.6L1351.8,701.6L1361.8,718.6ZM1344.4,726.3L1354.4,709.3L1364.4,726.3ZM1347.0,735.8L1357.0,718.8L1367.0,735.8ZM1349.6,745.8L1359.6,728.8L1369.6,745.8ZM1352.2,752.8L1362.2,735.8L1372.2,752.8ZM1354.8,761.7L1364.8,744.7L1374.8,761.7ZM1357.4,768.8L1367.4,751.8L1377.4,768.8ZM1360.0,776.4L1370.0,759.4L1380.0,776.4ZM1362.6,784.1L1372.6,767.1L1382.6,784.1ZM1365.2,793.5L1375.2,776.5L1385.2,793.5ZM1367.8,802.5L1377.8,785.5L1387.8,802.5ZM1370.4,808.6L1380.4,791.6L1390.4,808.6ZM1373.0,814.2L1383.0,797.2L1393.0,814.2ZM1375.6,821.3L1385.6,804.3L1395.6,821.3ZM1378.2,825.4L1388.2,808.4L1398.2,825.4ZM1380.8,830.4L1390.8,813.4L1400.8,830.4ZM1383.4,834.3L1393.4,817.3L1403.4,834.3ZM1386.0,837.9L1396.0,820.9L1406.0,837.9ZM1388.6,842.4L1398.6,825.4L1408.6,842.4ZM1391.2,841.0L1401.2,824.0L1411.2,841.0ZM1393.8,844.1L1403.8,827.1L1413.8,844.1ZM1396.4,842.0L1406.4,825.0L1416.4,842.0ZM1399.0,849.4L1409.0,832.4L1419.0,849.4ZM1401.6,847.4L1411.6,830.4L1421.6,847.4ZM1404.2,852.7L1414.2,835.7L1424.2,852.7ZM1406.8,850.4L1416.8,833.4L1426.8,850.4ZM1409.4,854.8L1419.4,837.8L1429.4,854.8ZM1412.0,855.7L1422.0,838.7L1432.0,855.7ZM1414.6,848.3L1424.6,831.3L1434.6,848.3ZM1417.2,849.9L1427.2,832.9L1437.2,849.9ZM1419.8,848.9L1429.8,831.9L1439.8,848.9ZM1422.4,857.4L1432.4,840.4L1442.4,857.4ZM1425.0,863.6L1435.0,846.6L1445.0,863.6ZM1427.6,863.3L1437.6,846.3L1447.6,863.3ZM1430.2,861.6L1440.2,844.6L1450.2,861.6ZM1432.8,869.2L1442.8,852.2L1452.8,869.2ZM1435.4,859.4L1445.4,842.4L1455.4,859.4ZM1438.0,871.2L1448.0,854.2L1458.0,871.2ZM1440.6,864.4L1450.6,847.4L1460.6,864.4ZM1443.2,857.8L1453.2,840.8L1463.2,857.8ZM1445.8,878.0L1455.8,861.0L1465.8,878.0ZM1448.4,873.7L1458.4,856.7L1468.4,873.7ZM1451.0,863.7L1461.0,846.7L1471.0,863.7ZM1453.6,867.4L1463.6,850.4L1473.6,867.4ZM1456.2,865.3L1466.2,848.3L1476.2,865.3ZM1458.8,865.5L1468.8,848.5L1478.8,865.5ZM1461.4,858.9L1471.4,841.9L1481.4,858.9ZM1464.0,861.0L1474.0,844.0L1484.0,861.0ZM1466.6,864.2L1476.6,847.2L1486.6,864.2ZM1469.2,862.2L1479.2,845.2L1489.2,862.2ZM1471.8,864.5L1481.8,847.5L1491.8,864.5ZM1474.4,859.4L1484.4,842.4L1494.4,859.4ZM1477.0,868.3L1487.0,851.3L1497.0,868.3ZM1479.6,858.8L1489.6,841.8L1499.6,858.8ZM1482.2,864.1L1492.2,847.1L1502.2,864.1ZM1484.8,858.4L1494.8,841.4L1504.8,858.4ZM1487.4,863.1L1497.4,846.1L1507.4,863.1ZM1490.0,874.8L1500.0,857.8L1510.0,874.8ZM1492.6,867.9L1502.6,850.9L1512.6,867.9ZM1495.2,874.4L1505.2,857.4L1515.2,874.4ZM1497.8,873.4L1507.8,856.4L1517.8,873.4ZM253.0,721.7L263.0,704.7L273.0,721.7ZM1487.0,898.7L1497.0,881.7L1507.0,898.7ZM1493.0,903.7L1503.0,886.7L1513.0,903.7ZM1420.0,877.7L1430.0,860.7L1440.0,877.7Z" fill="#00f"/>
<rect x="262" y="979.6" width="75" height="7" fill="#008080"/>
<rect x="262" y="979.6" width="75" height="2.2" fill="#3cb8b8"/>
<rect x="340" y="979.6" width="648" height="7" fill="#008080"/>
<rect x="340" y="979.6" width="648" height="2.2" fill="#3cb8b8"/>
<rect x="996" y="979.6" width="81" height="7" fill="#008080"/>
<rect x="996" y="979.6" width="81" height="2.2" fill="#3cb8b8"/>
<rect x="1084" y="979.6" width="30" height="7" fill="#008080"/>
<rect x="1084" y="979.6" width="30" height="2.2" fill="#3cb8b8"/>
<rect x="1122" y="979.6" width="72" height="7" fill="#008080"/>
<rect x="1122" y="979.6" width="72" height="2.2" fill="#3cb8b8"/>
<rect x="1237" y="979.6" width="32" height="7" fill="#008080"/>
<rect x="1237" y="979.6" width="32" height="2.2" fill="#3cb8b8"/>
<rect x="1287" y="979.6" width="20" height="7" fill="#008080"/>
<rect x="1287" y="979.6" width="20" height="2.2" fill="#3cb8b8"/>
<rect x="1371" y="979.6" width="43" height="7" fill="#008080"/>
<rect x="1371" y="979.6" width="43" height="2.2" fill="#3cb8b8"/>
<rect x="1417" y="979.6" width="34" height="7" fill="#008080"/>
<rect x="1417" y="979.6" width="34" height="2.2" fill="#3cb8b8"/>
<rect x="1458" y="979.6" width="50" height="7" fill="#008080"/>
<rect x="1458" y="979.6" width="50" height="2.2" fill="#3cb8b8"/>
<path d="M265.0,905.2V985M273.0,913.4V985M269.0,936.1V985M288.0,954.1V985M324.0,954.1V985M351.0,954.1V985M397.5,954.1V985M422.0,936.1V985M438.5,954.1V985M444.0,936.1V985M451.0,936.1V985M451.0,954.1V985M460.0,936.1V985M492.0,954.1V985M532.4,954.1V985M579.3,954.1V985M610.7,936.1V985M623.0,923.3V985M631.3,936.1V985M653.7,954.1V985M686.5,954.1V985M690.3,936.1V985M698.0,954.1V985M730.0,954.1V985M745.5,923.3V985M747.5,954.1V985M813.6,954.1V985M832.8,923.3V985M856.0,954.1V985M869.4,936.1V985M890.0,954.1V985M902.8,954.1V985M913.7,954.1V985M929.8,954.1V985M943.2,954.1V985M954.0,954.1V985M1013.0,936.1V985M1062.0,954.1V985M1089.0,954.1V985M1128.7,954.1V985M1212.0,954.1V985M1217.3,936.1V985M1222.0,954.1V985M1233.0,954.1V985M1277.0,954.1V985M1287.0,954.1V985M1298.0,954.1V985M1429.7,954.1V985M1439.0,954.1V985M1449.0,954.1V985M1458.5,954.1V985M1476.0,954.1V985M1502.8,954.1V985" stroke="#008080" stroke-width="3" opacity="0.75"/>
<path d="M1305.0,954.1L1307.3,923.0L1308.0,905.0L1315.6,861.0L1320.0,829.0L1329.0,812.0L1338.0,815.0L1346.6,829.0L1348.8,839.0L1351.0,855.0L1355.0,874.0L1356.4,867.0L1361.6,893.0L1365.4,905.7L1367.7,913.0L1371.4,936.0M1371.4,936V985" stroke="#008080" stroke-width="3" fill="none"/>
<path d="M255.5,899.9L274.5,899.9L265.0,915.9ZM263.5,908.0L282.5,908.0L273.0,924.0ZM259.5,930.8L278.5,930.8L269.0,946.8ZM278.5,948.8L297.5,948.8L288.0,964.8ZM314.5,948.8L333.5,948.8L324.0,964.8ZM341.5,948.8L360.5,948.8L351.0,964.8ZM388.0,948.8L407.0,948.8L397.5,964.8ZM412.5,930.8L431.5,930.8L422.0,946.8ZM429.0,948.8L448.0,948.8L438.5,964.8ZM434.5,930.8L453.5,930.8L444.0,946.8ZM441.5,930.8L460.5,930.8L451.0,946.8ZM441.5,948.8L460.5,948.8L451.0,964.8ZM450.5,930.8L469.5,930.8L460.0,946.8ZM482.5,948.8L501.5,948.8L492.0,964.8ZM522.9,948.8L541.9,948.8L532.4,964.8ZM569.8,948.8L588.8,948.8L579.3,964.8ZM601.2,930.8L620.2,930.8L610.7,946.8ZM613.5,918.0L632.5,918.0L623.0,934.0ZM621.8,930.8L640.8,930.8L631.3,946.8ZM644.2,948.8L663.2,948.8L653.7,964.8ZM677.0,948.8L696.0,948.8L686.5,964.8ZM680.8,930.8L699.8,930.8L690.3,946.8ZM688.5,948.8L707.5,948.8L698.0,964.8ZM720.5,948.8L739.5,948.8L730.0,964.8ZM736.0,918.0L755.0,918.0L745.5,934.0ZM738.0,948.8L757.0,948.8L747.5,964.8ZM804.1,948.8L823.1,948.8L813.6,964.8ZM823.3,918.0L842.3,918.0L832.8,934.0ZM846.5,948.8L865.5,948.8L856.0,964.8ZM859.9,930.8L878.9,930.8L869.4,946.8ZM880.5,948.8L899.5,948.8L890.0,964.8ZM893.3,948.8L912.3,948.8L902.8,964.8ZM904.2,948.8L923.2,948.8L913.7,964.8ZM920.3,948.8L939.3,948.8L929.8,964.8ZM933.7,948.8L952.7,948.8L943.2,964.8ZM944.5,948.8L963.5,948.8L954.0,964.8ZM1003.5,930.8L1022.5,930.8L1013.0,946.8ZM1052.5,948.8L1071.5,948.8L1062.0,964.8ZM1079.5,948.8L1098.5,948.8L1089.0,964.8ZM1119.2,948.8L1138.2,948.8L1128.7,964.8ZM1202.5,948.8L1221.5,948.8L1212.0,964.8ZM1207.8,930.8L1226.8,930.8L1217.3,946.8ZM1212.5,948.8L1231.5,948.8L1222.0,964.8ZM1223.5,948.8L1242.5,948.8L1233.0,964.8ZM1267.5,948.8L1286.5,948.8L1277.0,964.8ZM1277.5,948.8L1296.5,948.8L1287.0,964.8ZM1288.5,948.8L1307.5,948.8L1298.0,964.8ZM1420.2,948.8L1439.2,948.8L1429.7,964.8ZM1429.5,948.8L1448.5,948.8L1439.0,964.8ZM1439.5,948.8L1458.5,948.8L1449.0,964.8ZM1449.0,948.8L1468.0,948.8L1458.5,964.8ZM1466.5,948.8L1485.5,948.8L1476.0,964.8ZM1493.3,948.8L1512.3,948.8L1502.8,964.8ZM1295.5,948.8L1314.5,948.8L1305.0,964.8ZM1297.8,917.7L1316.8,917.7L1307.3,933.7ZM1298.5,899.7L1317.5,899.7L1308.0,915.7ZM1306.1,855.7L1325.1,855.7L1315.6,871.7ZM1310.5,823.7L1329.5,823.7L1320.0,839.7ZM1319.5,806.7L1338.5,806.7L1329.0,822.7ZM1328.5,809.7L1347.5,809.7L1338.0,825.7ZM1337.1,823.7L1356.1,823.7L1346.6,839.7ZM1339.3,833.7L1358.3,833.7L1348.8,849.7ZM1341.5,849.7L1360.5,849.7L1351.0,865.7ZM1345.5,868.7L1364.5,868.7L1355.0,884.7ZM1346.9,861.7L1365.9,861.7L1356.4,877.7ZM1352.1,887.7L1371.1,887.7L1361.6,903.7ZM1355.9,900.4L1374.9,900.4L1365.4,916.4ZM1358.2,907.7L1377.2,907.7L1367.7,923.7ZM1361.9,930.7L1380.9,930.7L1371.4,946.7Z" fill="#008080"/>
<path d="M1301.0,985.0L1303.6,953.5L1307.0,925.0L1308.0,915.7L1309.6,906.7L1311.0,898.0L1314.5,876.0L1316.4,870.5L1318.6,862.0L1321.0,850.0L1321.0,849.4L1323.2,839.4L1325.4,831.3L1327.6,825.3L1329.8,821.8L1332.0,817.7L1334.2,812.4L1336.4,813.0L1338.6,807.0L1340.8,801.9L1343.0,802.8L1345.2,797.1L1347.4,796.1L1349.6,792.5L1351.8,790.0L1354.0,787.1L1356.2,783.1L1358.4,781.1L1360.6,781.4L1362.8,772.6L1365.0,773.6L1367.2,771.7L1369.4,767.1L1371.6,764.5L1373.8,767.8L1376.0,762.0L1378.2,763.7L1380.4,759.7L1382.6,758.2L1384.8,758.1L1384.0,752.4L1386.6,755.8L1389.2,754.2L1391.8,752.8L1394.4,753.8L1397.0,754.3L1399.6,753.5L1402.2,750.8L1404.8,752.9L1407.4,758.4L1410.0,751.7L1412.6,750.3L1415.2,754.6L1417.8,755.3L1420.4,755.0L1423.0,751.5L1425.6,756.1L1428.2,752.2L1430.8,751.4L1433.4,752.5L1436.0,753.6L1438.6,755.4L1441.2,755.1L1443.8,753.7L1446.4,755.8L1449.0,753.9L1451.6,755.6L1454.2,750.5L1456.8,750.1L1459.4,755.3L1462.0,750.5L1464.6,752.8L1467.2,753.3L1469.8,752.4L1472.4,752.4L1475.0,756.4L1477.6,747.8L1480.2,755.3L1482.8,758.3L1485.4,753.3L1488.0,753.2L1490.6,754.8L1493.2,757.2L1495.8,750.5L1498.4,753.3L1501.0,752.7L1503.6,754.3L1506.2,753.4L1508.8,754.5" stroke="#808000" stroke-width="3" fill="none"/>
<path d="M314.7,979.3L327.7,986.8L314.7,994.3ZM319.7,978.7L332.7,986.2L319.7,993.7ZM342.7,978.3L355.7,985.8L342.7,993.3ZM394.7,977.5L407.7,985.0L394.7,992.5ZM399.7,978.8L412.7,986.3L399.7,993.8ZM404.7,979.1L417.7,986.6L404.7,994.1ZM409.7,978.6L422.7,986.1L409.7,993.6ZM467.7,979.9L480.7,987.4L467.7,994.9ZM472.7,978.0L485.7,985.5L472.7,993.0ZM477.7,979.5L490.7,987.0L477.7,994.5ZM503.7,979.3L516.7,986.8L503.7,994.3ZM508.7,979.7L521.7,987.2L508.7,994.7ZM530.7,979.8L543.7,987.3L530.7,994.8ZM547.7,978.1L560.7,985.6L547.7,993.1ZM552.7,979.8L565.7,987.3L552.7,994.8ZM588.7,978.5L601.7,986.0L588.7,993.5ZM593.7,979.2L606.7,986.7L593.7,994.2ZM598.7,979.9L611.7,987.4L598.7,994.9ZM603.7,979.0L616.7,986.5L603.7,994.0ZM608.7,979.0L621.7,986.5L608.7,994.0ZM613.7,977.7L626.7,985.2L613.7,992.7ZM618.7,979.0L631.7,986.5L618.7,994.0ZM623.7,978.1L636.7,985.6L623.7,993.1ZM628.7,978.5L641.7,986.0L628.7,993.5ZM675.7,978.4L688.7,985.9L675.7,993.4ZM680.7,979.9L693.7,987.4L680.7,994.9ZM685.7,979.1L698.7,986.6L685.7,994.1ZM690.7,979.3L703.7,986.8L690.7,994.3ZM719.7,977.9L732.7,985.4L719.7,992.9ZM724.7,978.3L737.7,985.8L724.7,993.3ZM729.7,979.7L742.7,987.2L729.7,994.7ZM734.7,977.8L747.7,985.3L734.7,992.8ZM739.7,979.9L752.7,987.4L739.7,994.9ZM744.7,978.6L757.7,986.1L744.7,993.6ZM749.7,978.5L762.7,986.0L749.7,993.5ZM754.7,978.8L767.7,986.3L754.7,993.8ZM838.7,978.6L851.7,986.1L838.7,993.6ZM843.7,978.7L856.7,986.2L843.7,993.7ZM848.7,978.6L861.7,986.1L848.7,993.6ZM853.7,979.3L866.7,986.8L853.7,994.3ZM868.7,978.2L881.7,985.7L868.7,993.2ZM939.7,977.9L952.7,985.4L939.7,992.9ZM944.7,978.6L957.7,986.1L944.7,993.6ZM949.7,977.7L962.7,985.2L949.7,992.7ZM954.7,978.6L967.7,986.1L954.7,993.6ZM1043.7,978.7L1056.7,986.2L1043.7,993.7ZM1048.7,979.5L1061.7,987.0L1048.7,994.5ZM1064.7,977.8L1077.7,985.3L1064.7,992.8ZM1119.7,978.5L1132.7,986.0L1119.7,993.5ZM1124.7,979.5L1137.7,987.0L1124.7,994.5ZM1160.7,978.3L1173.7,985.8L1160.7,993.3ZM1165.7,979.6L1178.7,987.1L1165.7,994.6ZM1170.7,979.3L1183.7,986.8L1170.7,994.3ZM1209.7,977.6L1222.7,985.1L1209.7,992.6ZM1238.7,978.5L1251.7,986.0L1238.7,993.5ZM1243.7,979.4L1256.7,986.9L1243.7,994.4ZM1255.7,978.8L1268.7,986.3L1255.7,993.8ZM1260.7,979.2L1273.7,986.7L1260.7,994.2ZM1292.7,979.0L1305.7,986.5L1292.7,994.0ZM1296.0,976.5L1311.0,985.0L1296.0,993.5ZM1298.6,945.0L1313.6,953.5L1298.6,962.0ZM1302.0,916.5L1317.0,925.0L1302.0,933.5ZM1303.0,907.2L1318.0,915.7L1303.0,924.2ZM1304.6,898.2L1319.6,906.7L1304.6,915.2ZM1306.0,889.5L1321.0,898.0L1306.0,906.5ZM1309.5,867.5L1324.5,876.0L1309.5,884.5ZM1311.4,862.0L1326.4,870.5L1311.4,879.0ZM1313.6,853.5L1328.6,862.0L1313.6,870.5ZM1316.0,841.5L1331.0,850.0L1316.0,858.5ZM1316.0,840.9L1331.0,849.4L1316.0,857.9ZM1318.2,830.9L1333.2,839.4L1318.2,847.9ZM1320.4,822.8L1335.4,831.3L1320.4,839.8ZM1322.6,816.8L1337.6,825.3L1322.6,833.8ZM1324.8,813.3L1339.8,821.8L1324.8,830.3ZM1327.0,809.2L1342.0,817.7L1327.0,826.2ZM1329.2,803.9L1344.2,812.4L1329.2,820.9ZM1331.4,804.5L1346.4,813.0L1331.4,821.5ZM1333.6,798.5L1348.6,807.0L1333.6,815.5ZM1335.8,793.4L1350.8,801.9L1335.8,810.4ZM1338.0,794.3L1353.0,802.8L1338.0,811.3ZM1340.2,788.6L1355.2,797.1L1340.2,805.6ZM1342.4,787.6L1357.4,796.1L1342.4,804.6ZM1344.6,784.0L1359.6,792.5L1344.6,801.0ZM1346.8,781.5L1361.8,790.0L1346.8,798.5ZM1349.0,778.6L1364.0,787.1L1349.0,795.6ZM1351.2,774.6L1366.2,783.1L1351.2,791.6ZM1353.4,772.6L1368.4,781.1L1353.4,789.6ZM1355.6,772.9L1370.6,781.4L1355.6,789.9ZM1357.8,764.1L1372.8,772.6L1357.8,781.1ZM1360.0,765.1L1375.0,773.6L1360.0,782.1ZM1362.2,763.2L1377.2,771.7L1362.2,780.2ZM1364.4,758.6L1379.4,767.1L1364.4,775.6ZM1366.6,756.0L1381.6,764.5L1366.6,773.0ZM1368.8,759.3L1383.8,767.8L1368.8,776.3ZM1371.0,753.5L1386.0,762.0L1371.0,770.5ZM1373.2,755.2L1388.2,763.7L1373.2,772.2ZM1375.4,751.2L1390.4,759.7L1375.4,768.2ZM1377.6,749.7L1392.6,758.2L1377.6,766.7ZM1379.8,749.6L1394.8,758.1L1379.8,766.6ZM1379.0,743.9L1394.0,752.4L1379.0,760.9ZM1381.6,747.3L1396.6,755.8L1381.6,764.3ZM1384.2,745.7L1399.2,754.2L1384.2,762.7ZM1386.8,744.3L1401.8,752.8L1386.8,761.3ZM1389.4,745.3L1404.4,753.8L1389.4,762.3ZM1392.0,745.8L1407.0,754.3L1392.0,762.8ZM1394.6,745.0L1409.6,753.5L1394.6,762.0ZM1397.2,742.3L1412.2,750.8L1397.2,759.3ZM1399.8,744.4L1414.8,752.9L1399.8,761.4ZM1402.4,749.9L1417.4,758.4L1402.4,766.9ZM1405.0,743.2L1420.0,751.7L1405.0,760.2ZM1407.6,741.8L1422.6,750.3L1407.6,758.8ZM1410.2,746.1L1425.2,754.6L1410.2,763.1ZM1412.8,746.8L1427.8,755.3L1412.8,763.8ZM1415.4,746.5L1430.4,755.0L1415.4,763.5ZM1418.0,743.0L1433.0,751.5L1418.0,760.0ZM1420.6,747.6L1435.6,756.1L1420.6,764.6ZM1423.2,743.7L1438.2,752.2L1423.2,760.7ZM1425.8,742.9L1440.8,751.4L1425.8,759.9ZM1428.4,744.0L1443.4,752.5L1428.4,761.0ZM1431.0,745.1L1446.0,753.6L1431.0,762.1ZM1433.6,746.9L1448.6,755.4L1433.6,763.9ZM1436.2,746.6L1451.2,755.1L1436.2,763.6ZM1438.8,745.2L1453.8,753.7L1438.8,762.2ZM1441.4,747.3L1456.4,755.8L1441.4,764.3ZM1444.0,745.4L1459.0,753.9L1444.0,762.4ZM1446.6,747.1L1461.6,755.6L1446.6,764.1ZM1449.2,742.0L1464.2,750.5L1449.2,759.0ZM1451.8,741.6L1466.8,750.1L1451.8,758.6ZM1454.4,746.8L1469.4,755.3L1454.4,763.8ZM1457.0,742.0L1472.0,750.5L1457.0,759.0ZM1459.6,744.3L1474.6,752.8L1459.6,761.3ZM1462.2,744.8L1477.2,753.3L1462.2,761.8ZM1464.8,743.9L1479.8,752.4L1464.8,760.9ZM1467.4,743.9L1482.4,752.4L1467.4,760.9ZM1470.0,747.9L1485.0,756.4L1470.0,764.9ZM1472.6,739.3L1487.6,747.8L1472.6,756.3ZM1475.2,746.8L1490.2,755.3L1475.2,763.8ZM1477.8,749.8L1492.8,758.3L1477.8,766.8ZM1480.4,744.8L1495.4,753.3L1480.4,761.8ZM1483.0,744.7L1498.0,753.2L1483.0,761.7ZM1485.6,746.3L1500.6,754.8L1485.6,763.3ZM1488.2,748.7L1503.2,757.2L1488.2,765.7ZM1490.8,742.0L1505.8,750.5L1490.8,759.0ZM1493.4,744.8L1508.4,753.3L1493.4,761.8ZM1496.0,744.2L1511.0,752.7L1496.0,761.2ZM1498.6,745.8L1513.6,754.3L1498.6,762.8ZM1501.2,744.9L1516.2,753.4L1501.2,761.9ZM1503.8,746.0L1518.8,754.5L1503.8,763.0Z" fill="#808000"/>
</g>
<text x="209" y="1005.5" font-family="Liberation Sans, Arial, Helvetica, sans-serif" font-size="52" text-anchor="end" fill="#000" stroke="#000" stroke-width="0.7" transform="matrix(0.9404,0,0,0.9842,15.74,14.20)">10</text>
<text x="212" y="977.5" font-family="Liberation Sans, Arial, Helvetica, sans-serif" font-size="32" text-anchor="start" fill="#000" stroke="#000" stroke-width="0.7" transform="matrix(0.9965,0,0,1.0273,0.36,-26.67)">0</text>
<text x="209" y="903.0" font-family="Liberation Sans, Arial, Helvetica, sans-serif" font-size="52" text-anchor="end" fill="#000" stroke="#000" stroke-width="0.7" transform="matrix(0.9404,0,0,0.9842,15.74,13.07)">10</text>
<text x="212" y="875.0" font-family="Liberation Sans, Arial, Helvetica, sans-serif" font-size="32" text-anchor="start" fill="#000" stroke="#000" stroke-width="0.7" transform="matrix(0.9965,0,0,1.0273,0.46,-23.36)">1</text>
<text x="209" y="800.5" font-family="Liberation Sans, Arial, Helvetica, sans-serif" font-size="52" text-anchor="end" fill="#000" stroke="#000" stroke-width="0.7" transform="matrix(0.9404,0,0,0.9842,15.74,10.96)">10</text>
<text x="212" y="772.5" font-family="Liberation Sans, Arial, Helvetica, sans-serif" font-size="32" text-anchor="start" fill="#000" stroke="#000" stroke-width="0.7" transform="matrix(0.9965,0,0,1.0273,-0.64,-21.08)">2</text>
<text x="209" y="698.0" font-family="Liberation Sans, Arial, Helvetica, sans-serif" font-size="52" text-anchor="end" fill="#000" stroke="#000" stroke-width="0.7" transform="matrix(0.9404,0,0,0.9842,15.74,9.84)">10</text>
<text x="212" y="670.0" font-family="Liberation Sans, Arial, Helvetica, sans-serif" font-size="32" text-anchor="start" fill="#000" stroke="#000" stroke-width="0.7" transform="matrix(0.9965,0,0,1.0273,0.36,-17.77)">3</text>
<text x="209" y="595.5" font-family="Liberation Sans, Arial, Helvetica, sans-serif" font-size="52" text-anchor="end" fill="#000" stroke="#000" stroke-width="0.7" transform="matrix(0.9404,0,0,0.9842,15.74,7.73)">10</text>
<text x="212" y="567.5" font-family="Liberation Sans, Arial, Helvetica, sans-serif" font-size="32" text-anchor="start" fill="#000" stroke="#000" stroke-width="0.7" transform="matrix(0.9965,0,0,1.0273,0.36,-15.49)">4</text>
<text x="209" y="493.0" font-family="Liberation Sans, Arial, Helvetica, sans-serif" font-size="52" text-anchor="end" fill="#000" stroke="#000" stroke-width="0.7" transform="matrix(0.9404,0,0,0.9842,15.74,6.60)">10</text>
<text x="212" y="465.0" font-family="Liberation Sans, Arial, Helvetica, sans-serif" font-size="32" text-anchor="start" fill="#000" stroke="#000" stroke-width="0.7" transform="matrix(0.9965,0,0,1.0273,0.36,-12.18)">5</text>
<text x="209" y="390.5" font-family="Liberation Sans, Arial, Helvetica, sans-serif" font-size="52" text-anchor="end" fill="#000" stroke="#000" stroke-width="0.7" transform="matrix(0.9404,0,0,0.9842,15.74,4.49)">10</text>
<text x="212" y="362.5" font-family="Liberation Sans, Arial, Helvetica, sans-serif" font-size="32" text-anchor="start" fill="#000" stroke="#000" stroke-width="0.7" transform="matrix(0.9965,0,0,1.0273,-0.64,-9.90)">6</text>
<text x="209" y="288.0" font-family="Liberation Sans, Arial, Helvetica, sans-serif" font-size="52" text-anchor="end" fill="#000" stroke="#000" stroke-width="0.7" transform="matrix(0.9404,0,0,0.9842,15.74,3.36)">10</text>
<text x="212" y="260.0" font-family="Liberation Sans, Arial, Helvetica, sans-serif" font-size="32" text-anchor="start" fill="#000" stroke="#000" stroke-width="0.7" transform="matrix(0.9965,0,0,1.0273,-0.64,-6.59)">7</text>
<text x="209" y="185.5" font-family="Liberation Sans, Arial, Helvetica, sans-serif" font-size="52" text-anchor="end" fill="#000" stroke="#000" stroke-width="0.7" transform="matrix(0.9404,0,0,0.9842,15.74,1.25)">10</text>
<text x="212" y="157.5" font-family="Liberation Sans, Arial, Helvetica, sans-serif" font-size="32" text-anchor="start" fill="#000" stroke="#000" stroke-width="0.7" transform="matrix(0.9965,0,0,1.0273,0.36,-4.31)">8</text>
<text x="209" y="83.0" font-family="Liberation Sans, Arial, Helvetica, sans-serif" font-size="52" text-anchor="end" fill="#000" stroke="#000" stroke-width="0.7" transform="matrix(0.9404,0,0,0.9842,15.74,0.13)">10</text>
<text x="212" y="55.0" font-family="Liberation Sans, Arial, Helvetica, sans-serif" font-size="32" text-anchor="start" fill="#000" stroke="#000" stroke-width="0.7" transform="matrix(0.9965,0,0,1.0273,0.36,-1.00)">9</text>
<text x="260.5" y="1057" font-family="Liberation Sans, Arial, Helvetica, sans-serif" font-size="52" text-anchor="middle" fill="#000" stroke="#000" stroke-width="0.7" transform="matrix(0.8880,0,0,1.0000,28.28,-0.80)">0</text>
<text x="487.3" y="1057" font-family="Liberation Sans, Arial, Helvetica, sans-serif" font-size="52" text-anchor="middle" fill="#000" stroke="#000" stroke-width="0.7" transform="matrix(0.9759,0,0,1.0000,10.75,-0.80)">500</text>
<text x="714.1" y="1057" font-family="Liberation Sans, Arial, Helvetica, sans-serif" font-size="52" text-anchor="middle" fill="#000" stroke="#000" stroke-width="0.7" transform="matrix(0.9564,0,0,1.0000,30.50,-0.80)">1000</text>
<text x="940.9" y="1057" font-family="Liberation Sans, Arial, Helvetica, sans-serif" font-size="52" text-anchor="middle" fill="#000" stroke="#000" stroke-width="0.7" transform="matrix(0.9436,0,0,1.0000,53.19,-0.80)">1500</text>
<text x="1167.7" y="1057" font-family="Liberation Sans, Arial, Helvetica, sans-serif" font-size="52" text-anchor="middle" fill="#000" stroke="#000" stroke-width="0.7" transform="matrix(0.9811,0,0,1.0000,22.94,-0.80)">2000</text>
<text x="1394.5" y="1057" font-family="Liberation Sans, Arial, Helvetica, sans-serif" font-size="52" text-anchor="middle" fill="#000" stroke="#000" stroke-width="0.7" transform="matrix(0.9829,0,0,1.0000,24.22,-0.80)">2500</text>
<text x="885" y="1145" font-family="Liberation Sans, Arial, Helvetica, sans-serif" font-size="56" text-anchor="middle" fill="#000" stroke="#000" stroke-width="0.7" transform="matrix(0.9703,0,0,1.0285,26.58,-32.50)">Sputtering time (s)</text>
<text x="119" y="560" font-family="Liberation Sans, Arial, Helvetica, sans-serif" font-size="53" text-anchor="middle" fill="#000" stroke="#000" stroke-width="0.7" transform="matrix(1.0000,0,0,1.0208,1.00,-11.86) rotate(-90 119 560)">Intensity (c/s)</text>
<text x="829" y="218.5" font-family="Liberation Sans, Arial, Helvetica, sans-serif" font-size="54" text-anchor="start" fill="#000" stroke="#000" stroke-width="0.7" transform="matrix(0.9885,0,0,0.9897,7.25,0.86)">Cs</text>
<text x="593" y="633" font-family="Liberation Sans, Arial, Helvetica, sans-serif" font-size="53" text-anchor="start" fill="#0000ff" stroke="#0000ff" stroke-width="0.2" transform="matrix(1.0306,0,0,1.0487,-18.94,-30.49)">CsC</text>
<text x="800" y="826" font-family="Liberation Sans, Arial, Helvetica, sans-serif" font-size="53" text-anchor="start" fill="#ff0000" stroke="#ff0000" stroke-width="0.2" transform="matrix(1.0260,0,0,1.0385,-21.31,-30.81)">CsH</text>
<text x="1104" y="912" font-family="Liberation Sans, Arial, Helvetica, sans-serif" font-size="53" text-anchor="start" fill="#008080" stroke="#008080" stroke-width="0.2" transform="matrix(1.0280,0,0,1.0487,-30.00,-44.48)">CsO</text>
<text x="1366" y="706" font-family="Liberation Sans, Arial, Helvetica, sans-serif" font-size="53" text-anchor="start" fill="#808000" stroke="#808000" stroke-width="0.2" transform="matrix(1.0302,0,0,1.0125,-42.83,-8.34)">CsSi</text>
</svg></body></html>
